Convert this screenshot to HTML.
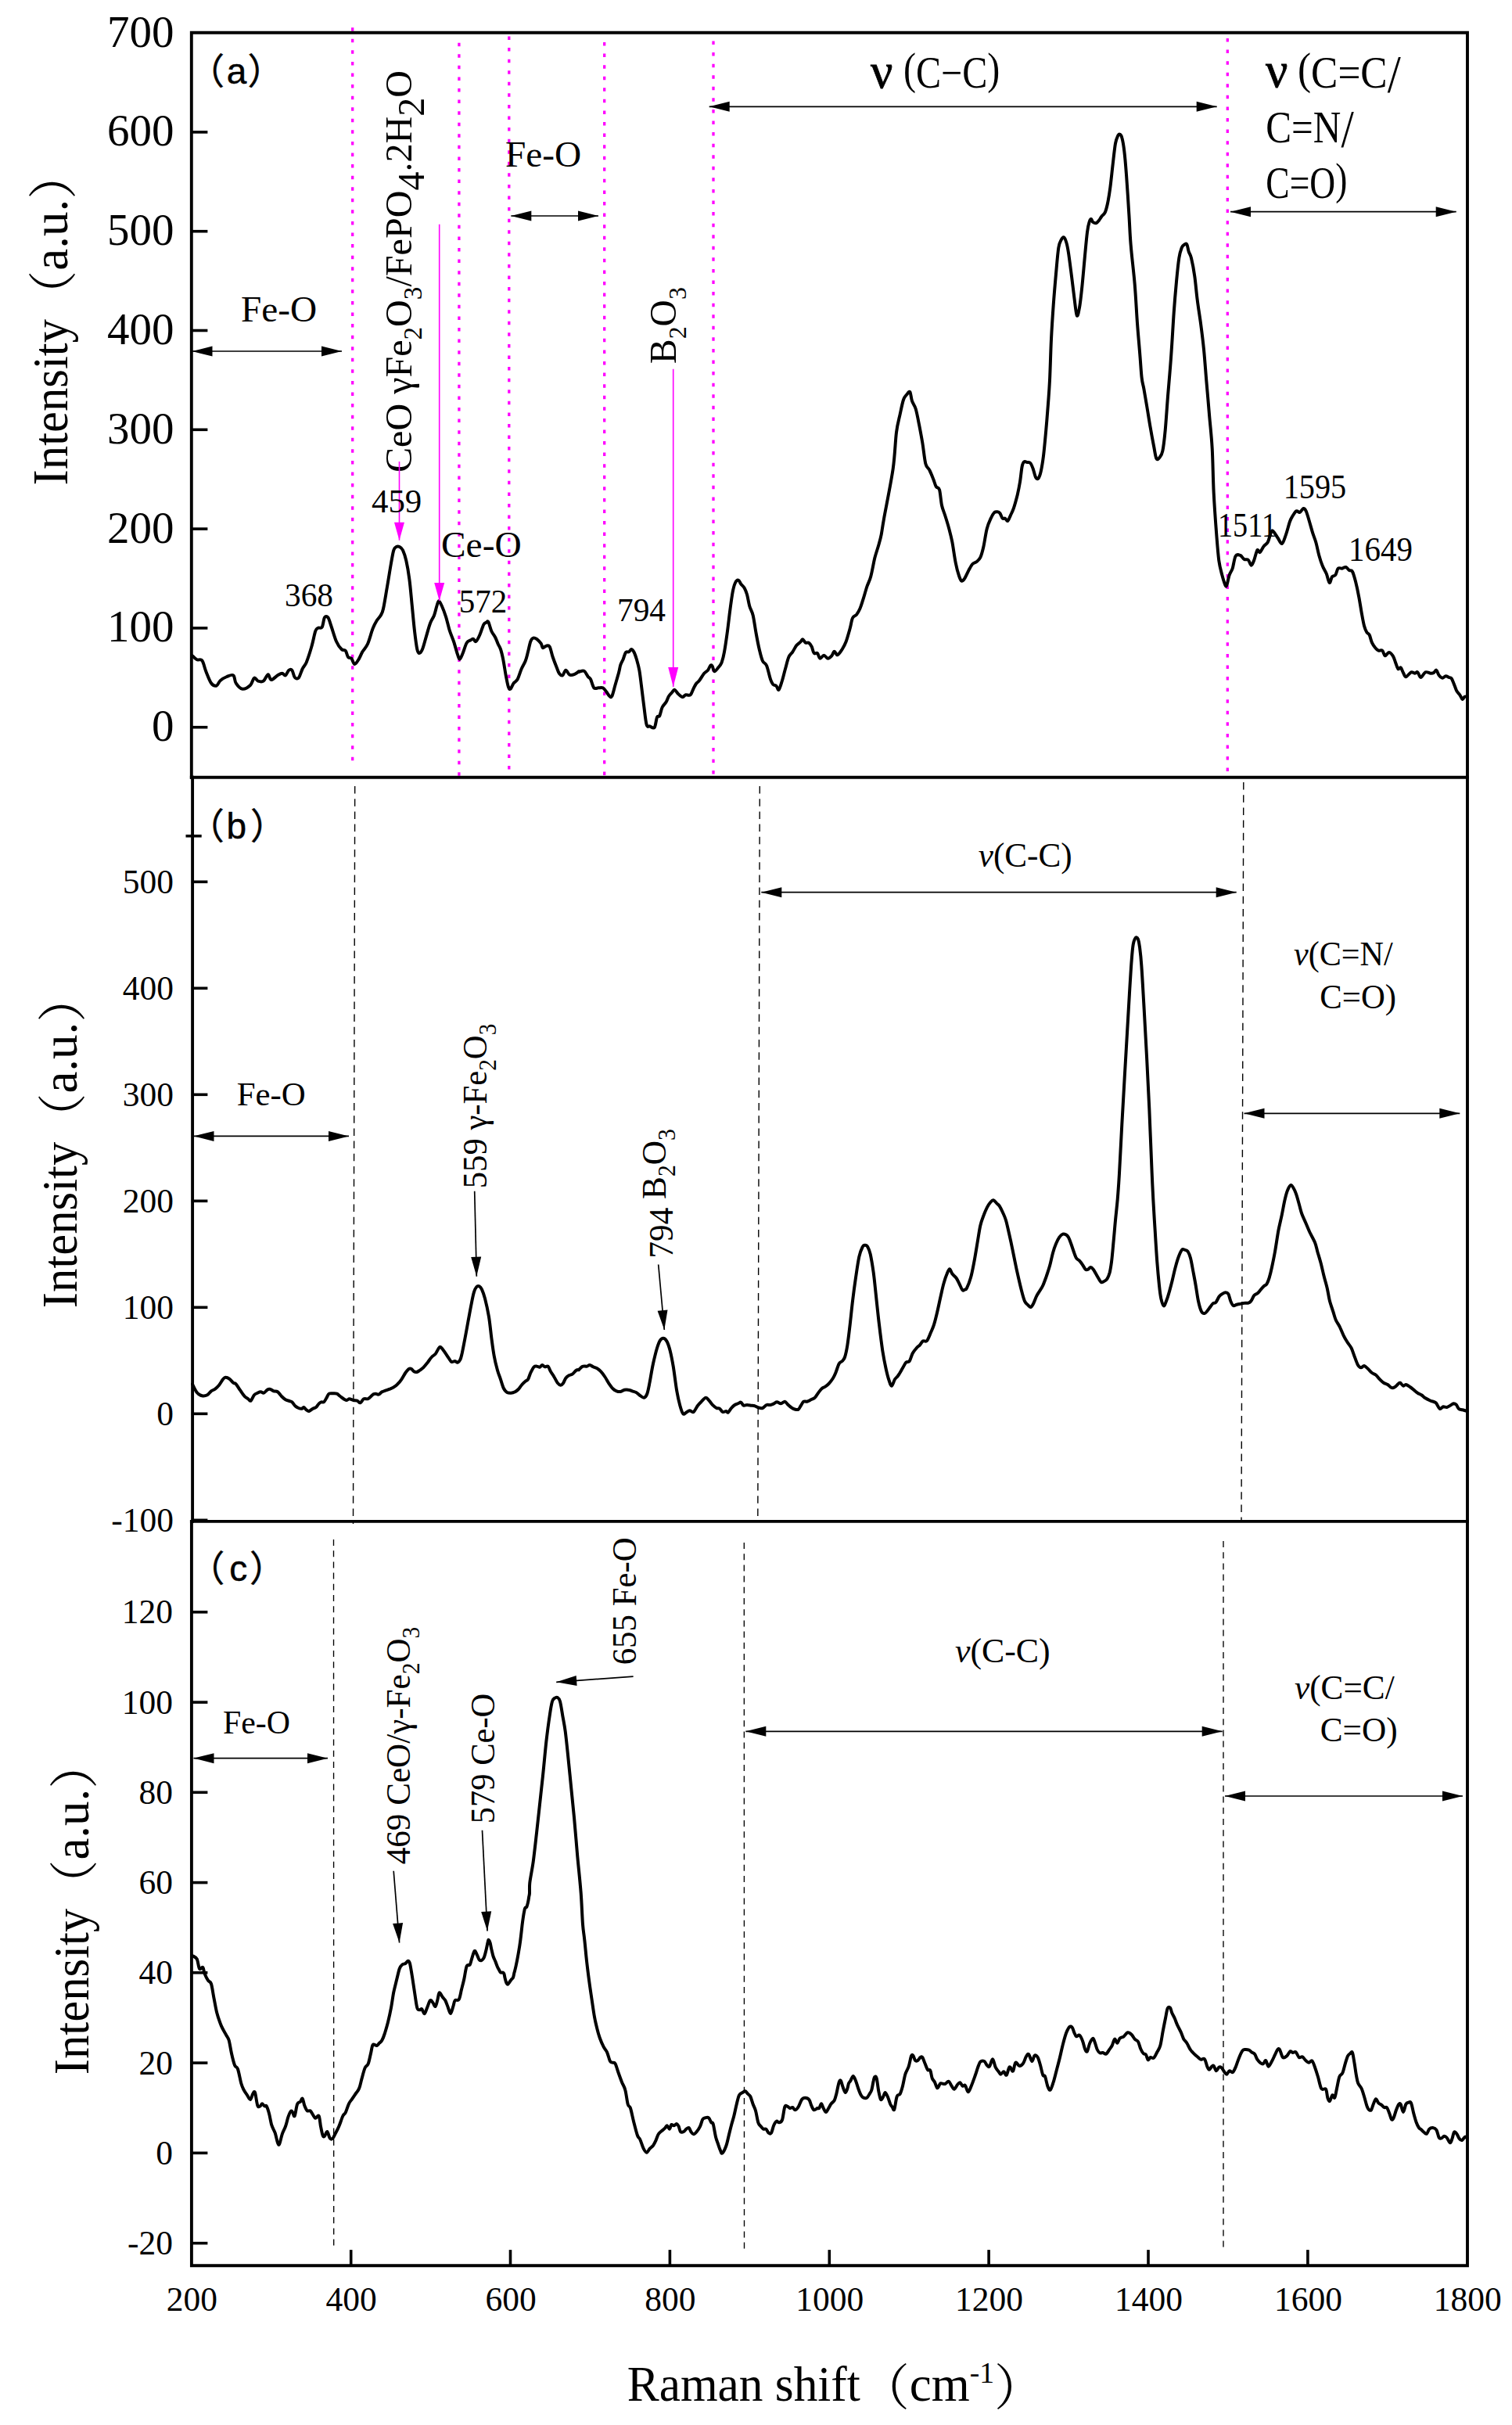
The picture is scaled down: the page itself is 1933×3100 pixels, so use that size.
<!DOCTYPE html>
<html lang="en"><head><meta charset="utf-8"><title>Raman spectra</title>
<style>html,body{margin:0;padding:0;background:#fff}svg{display:block}</style></head>
<body>
<svg width="1933" height="3100" viewBox="0 0 1933 3100">
<rect width="1933" height="3100" fill="#fff"/>
<line x1="450.7" y1="35.2" x2="450.7" y2="972.4" stroke="#ff00ff" stroke-width="3.3" stroke-dasharray="4.5 10.072"/>
<line x1="586.9" y1="54.7" x2="586.9" y2="991.9" stroke="#ff00ff" stroke-width="3.3" stroke-dasharray="4.5 10.072"/>
<line x1="650.8" y1="46.5" x2="650.8" y2="983.7" stroke="#ff00ff" stroke-width="3.3" stroke-dasharray="4.5 10.072"/>
<line x1="772.7" y1="54" x2="772.7" y2="991.2" stroke="#ff00ff" stroke-width="3.3" stroke-dasharray="4.5 10.072"/>
<line x1="912" y1="52.5" x2="912" y2="989.7" stroke="#ff00ff" stroke-width="3.3" stroke-dasharray="4.5 10.072"/>
<line x1="1569.3" y1="49" x2="1569.3" y2="986.2" stroke="#ff00ff" stroke-width="3.3" stroke-dasharray="4.5 10.072"/>
<line x1="453.7" y1="1005" x2="451.5" y2="1948" stroke="#000" stroke-width="1.4" stroke-dasharray="9.5 6.7"/>
<line x1="971.3" y1="1005" x2="968.8" y2="1944" stroke="#000" stroke-width="1.4" stroke-dasharray="9.5 6.7"/>
<line x1="1589.8" y1="1000" x2="1587.0" y2="1944" stroke="#000" stroke-width="1.4" stroke-dasharray="9.5 6.7"/>
<line x1="426.5" y1="1968" x2="426.7" y2="2872" stroke="#000" stroke-width="1.35" stroke-dasharray="8 6.2"/>
<line x1="951.3" y1="1972" x2="951.5" y2="2876.5" stroke="#000" stroke-width="1.35" stroke-dasharray="8 6.2"/>
<line x1="1564" y1="1970" x2="1564" y2="2875" stroke="#000" stroke-width="1.35" stroke-dasharray="8 6.2"/>
<path d="M246.0,838.3 C246.9,839.2 249.6,842.3 251.7,843.3 C253.7,844.3 256.4,841.8 258.3,844.3 C260.3,846.8 261.4,853.5 263.3,858.3 C265.3,863.2 267.8,870.3 270.0,873.3 C272.2,876.4 274.7,877.2 276.7,876.7 C278.6,876.1 279.4,871.9 281.7,870.0 C283.9,868.1 287.2,866.1 290.0,865.0 C292.8,863.9 296.4,861.9 298.3,863.3 C300.3,864.7 299.7,870.4 301.7,873.3 C303.6,876.2 306.9,880.2 310.0,880.7 C313.1,881.1 317.5,878.3 320.0,876.0 C322.5,873.7 323.3,867.6 325.0,866.7 C326.7,865.8 328.1,870.0 330.0,870.7 C331.9,871.3 334.6,872.1 336.7,870.7 C338.8,869.3 341.0,862.6 342.7,862.3 C344.3,862.1 344.6,868.8 346.7,869.0 C348.7,869.2 352.7,864.7 355.0,863.3 C357.3,861.9 359.0,860.7 360.7,860.7 C362.3,860.7 363.6,864.0 365.0,863.3 C366.4,862.7 367.9,857.8 369.3,856.7 C370.7,855.6 372.1,855.2 373.3,856.7 C374.6,858.2 375.3,864.0 376.7,865.7 C378.1,867.3 380.0,868.4 381.7,866.7 C383.3,864.9 385.0,858.3 386.7,855.0 C388.3,851.7 389.7,851.4 391.7,846.7 C393.6,841.9 396.4,833.3 398.3,826.7 C400.3,820.0 401.9,810.7 403.3,806.7 C404.7,802.7 405.3,803.5 406.7,802.7 C408.1,801.8 410.3,803.9 411.7,801.7 C413.1,799.4 413.7,791.4 415.0,789.3 C416.3,787.3 417.9,787.6 419.3,789.3 C420.7,791.1 421.6,794.9 423.3,800.0 C425.1,805.1 427.8,815.0 430.0,820.0 C432.2,825.0 434.7,828.1 436.7,830.0 C438.6,831.9 440.3,830.0 441.7,831.7 C443.1,833.3 443.7,838.3 445.0,840.0 C446.3,841.7 447.9,840.2 449.3,841.7 C450.7,843.2 451.8,848.7 453.3,849.0 C454.8,849.3 456.7,845.9 458.3,843.3 C460.0,840.7 461.4,836.7 463.3,833.3 C465.3,830.0 467.8,828.3 470.0,823.3 C472.2,818.3 474.7,808.3 476.7,803.3 C478.6,798.3 480.0,796.1 481.7,793.3 C483.3,790.6 485.3,789.2 486.7,786.7 C488.1,784.2 488.6,784.4 490.0,778.3 C491.4,772.2 493.3,759.7 495.0,750.0 C496.7,740.3 498.6,727.8 500.0,720.0 C501.4,712.2 502.2,706.8 503.3,703.3 C504.4,699.8 505.4,699.7 506.7,699.0 C507.9,698.3 509.3,698.3 510.7,699.0 C512.1,699.7 513.6,700.4 515.0,703.3 C516.4,706.3 517.9,710.6 519.3,716.7 C520.7,722.8 522.1,730.6 523.3,740.0 C524.6,749.4 525.6,762.2 526.7,773.3 C527.8,784.4 528.9,797.2 530.0,806.7 C531.1,816.1 532.3,825.3 533.3,830.0 C534.3,834.7 534.9,835.0 536.0,835.0 C537.1,835.0 538.5,833.6 540.0,830.0 C541.5,826.4 543.3,818.9 545.0,813.3 C546.7,807.8 548.3,801.1 550.0,796.7 C551.7,792.2 553.6,790.3 555.0,786.7 C556.4,783.1 557.3,778.1 558.3,775.0 C559.3,771.9 559.9,768.3 561.0,768.3 C562.1,768.3 563.5,771.7 565.0,775.0 C566.5,778.3 568.3,783.1 570.0,788.3 C571.7,793.6 573.3,801.4 575.0,806.7 C576.7,811.9 578.3,815.0 580.0,820.0 C581.7,825.0 583.7,832.9 585.0,836.7 C586.3,840.4 586.6,842.9 587.7,842.7 C588.8,842.4 590.2,838.5 591.7,835.0 C593.2,831.5 595.0,824.4 596.7,821.7 C598.3,818.9 600.3,819.2 601.7,818.3 C603.1,817.5 603.9,816.4 605.0,816.7 C606.1,816.9 606.9,820.8 608.3,820.0 C609.7,819.2 611.7,815.3 613.3,811.7 C615.0,808.1 616.9,801.0 618.3,798.3 C619.7,795.7 620.7,796.2 621.7,795.7 C622.7,795.1 623.2,793.2 624.3,795.0 C625.4,796.8 626.8,803.3 628.3,806.7 C629.8,810.0 631.9,812.2 633.3,815.0 C634.7,817.8 635.6,820.8 636.7,823.3 C637.8,825.8 638.9,826.7 640.0,830.0 C641.1,833.3 642.2,837.8 643.3,843.3 C644.4,848.9 645.6,857.5 646.7,863.3 C647.8,869.2 649.0,875.4 650.0,878.3 C651.0,881.2 651.6,881.5 652.7,880.7 C653.8,879.8 655.2,875.4 656.7,873.3 C658.2,871.3 660.0,871.4 661.7,868.3 C663.3,865.3 665.0,858.9 666.7,855.0 C668.3,851.1 670.3,848.6 671.7,845.0 C673.1,841.4 673.9,837.5 675.0,833.3 C676.1,829.2 677.2,822.9 678.3,820.0 C679.4,817.1 680.3,816.1 681.7,815.7 C683.1,815.2 685.0,816.2 686.7,817.3 C688.3,818.5 690.4,820.8 691.7,822.7 C692.9,824.5 692.9,827.8 694.0,828.3 C695.1,828.8 696.9,825.9 698.3,825.7 C699.8,825.4 701.3,824.3 702.7,826.7 C704.1,829.1 705.2,835.6 706.7,840.0 C708.2,844.4 710.3,849.8 711.7,853.3 C713.1,856.8 713.7,859.3 715.0,861.0 C716.3,862.7 717.9,864.1 719.3,863.3 C720.7,862.6 721.8,856.8 723.3,856.7 C724.8,856.6 726.4,861.8 728.3,862.7 C730.3,863.5 733.1,862.4 735.0,861.7 C736.9,860.9 739.2,858.8 740.0,858.3 C740.8,857.9 738.9,859.1 740.0,859.0 C741.1,858.9 744.7,856.7 746.7,857.7 C748.6,858.7 750.3,863.2 751.7,865.0 C753.1,866.8 753.7,865.9 755.0,868.3 C756.3,870.7 757.7,877.5 759.3,879.3 C761.0,881.2 763.1,879.3 765.0,879.3 C766.9,879.3 769.0,878.6 770.7,879.3 C772.3,880.1 773.6,882.2 775.0,884.0 C776.4,885.8 778.1,889.0 779.3,890.0 C780.6,891.0 781.1,892.5 782.3,890.0 C783.6,887.5 785.2,880.0 786.7,875.0 C788.1,870.0 789.9,864.2 791.0,860.0 C792.1,855.8 792.4,852.9 793.3,850.0 C794.3,847.1 795.6,845.3 796.7,842.7 C797.8,840.0 798.8,835.6 800.0,834.0 C801.2,832.4 802.8,834.0 804.0,833.3 C805.2,832.7 806.2,829.9 807.3,830.0 C808.4,830.1 809.6,831.8 810.7,834.0 C811.8,836.2 812.9,839.6 814.0,843.3 C815.1,847.1 816.3,851.1 817.3,856.7 C818.3,862.2 819.0,868.9 820.0,876.7 C821.0,884.4 822.2,895.0 823.3,903.3 C824.4,911.7 825.4,922.5 826.7,926.7 C827.9,930.8 829.0,927.8 830.7,928.3 C832.3,928.9 835.1,931.9 836.7,930.0 C838.2,928.1 838.9,919.2 840.0,916.7 C841.1,914.2 842.2,917.1 843.3,915.0 C844.4,912.9 845.3,906.9 846.7,904.0 C848.1,901.1 850.3,899.7 851.7,897.3 C853.1,895.0 853.7,892.1 855.0,890.0 C856.3,887.9 858.1,886.4 859.3,885.0 C860.6,883.6 861.1,881.4 862.3,881.7 C863.6,881.9 865.0,885.1 866.7,886.7 C868.3,888.2 870.7,890.7 872.3,891.0 C874.0,891.3 874.9,888.8 876.7,888.3 C878.4,887.9 881.0,889.7 882.7,888.3 C884.3,886.9 885.4,882.4 886.7,880.0 C887.9,877.6 888.8,875.7 890.0,874.0 C891.2,872.3 892.3,872.2 894.0,870.0 C895.7,867.8 898.2,863.2 900.0,861.0 C901.8,858.8 903.6,858.4 905.0,856.7 C906.4,854.9 907.4,851.5 908.3,850.7 C909.3,849.8 909.8,850.4 910.7,851.7 C911.5,852.9 912.1,858.1 913.3,858.3 C914.6,858.6 916.8,855.3 918.3,853.3 C919.9,851.4 921.4,850.0 922.7,846.7 C923.9,843.3 924.8,840.0 926.0,833.3 C927.2,826.7 928.8,815.6 930.0,806.7 C931.2,797.8 932.2,788.3 933.3,780.0 C934.4,771.7 935.6,762.5 936.7,756.7 C937.8,750.8 938.8,747.5 940.0,745.0 C941.2,742.5 942.8,741.4 944.0,741.7 C945.2,741.9 946.1,745.0 947.3,746.7 C948.6,748.3 950.4,749.4 951.7,751.7 C952.9,753.9 953.9,756.1 955.0,760.0 C956.1,763.9 957.1,770.6 958.3,775.0 C959.6,779.4 961.3,780.8 962.7,786.7 C964.1,792.5 965.3,802.8 966.7,810.0 C968.0,817.2 969.3,824.2 970.7,830.0 C972.1,835.8 973.4,841.6 975.0,845.0 C976.6,848.4 978.3,846.8 980.0,850.7 C981.7,854.6 983.6,864.3 985.0,868.3 C986.4,872.4 987.1,873.6 988.3,875.0 C989.6,876.4 991.1,875.6 992.3,876.7 C993.6,877.8 994.4,882.8 995.7,881.7 C996.9,880.6 998.6,874.4 1000.0,870.0 C1001.4,865.6 1002.6,860.0 1004.0,855.0 C1005.4,850.0 1006.8,843.6 1008.3,840.0 C1009.9,836.4 1011.7,835.8 1013.3,833.3 C1015.0,830.8 1016.7,827.1 1018.3,825.0 C1020.0,822.9 1022.1,821.9 1023.3,820.7 C1024.6,819.4 1024.9,817.2 1026.0,817.3 C1027.1,817.5 1028.7,820.9 1030.0,821.7 C1031.3,822.4 1032.7,820.8 1034.0,821.7 C1035.3,822.5 1036.6,824.4 1037.7,826.7 C1038.8,828.9 1039.4,833.6 1040.7,835.0 C1041.9,836.4 1043.7,833.9 1045.0,835.0 C1046.3,836.1 1046.9,841.2 1048.3,841.7 C1049.7,842.1 1051.7,837.7 1053.3,837.7 C1055.0,837.7 1056.7,841.6 1058.3,841.7 C1060.0,841.8 1061.9,839.8 1063.3,838.3 C1064.7,836.8 1065.4,832.8 1066.7,832.7 C1067.9,832.5 1069.0,837.8 1070.7,837.3 C1072.3,836.9 1074.8,832.9 1076.7,830.0 C1078.5,827.1 1080.0,824.4 1081.7,820.0 C1083.3,815.6 1085.3,808.3 1086.7,803.3 C1088.1,798.3 1088.6,792.9 1090.0,790.0 C1091.4,787.1 1093.4,787.6 1095.0,785.7 C1096.6,783.7 1097.9,781.5 1099.3,778.3 C1100.7,775.2 1101.8,771.4 1103.3,766.7 C1104.8,761.9 1106.7,755.0 1108.3,750.0 C1110.0,745.0 1111.7,742.8 1113.3,736.7 C1115.0,730.6 1116.7,720.0 1118.3,713.3 C1120.0,706.7 1121.9,701.7 1123.3,696.7 C1124.7,691.7 1125.6,688.9 1126.7,683.3 C1127.8,677.8 1127.5,677.3 1130.0,663.3 C1132.5,649.3 1139.0,617.8 1141.7,599.3 C1144.3,580.9 1144.5,564.3 1146.0,552.7 C1147.5,541.0 1149.2,536.3 1150.7,529.3 C1152.2,522.4 1153.6,515.2 1155.0,511.0 C1156.4,506.8 1157.9,506.0 1159.3,504.3 C1160.7,502.7 1162.2,499.6 1163.3,501.0 C1164.4,502.4 1164.8,509.1 1166.0,512.7 C1167.2,516.3 1169.2,517.7 1170.7,522.7 C1172.2,527.7 1173.6,535.4 1175.0,542.7 C1176.4,549.9 1177.9,557.7 1179.3,566.0 C1180.7,574.3 1181.8,586.8 1183.3,592.7 C1184.8,598.5 1186.7,597.7 1188.3,601.0 C1190.0,604.3 1191.9,609.2 1193.3,612.7 C1194.7,616.2 1195.4,619.8 1196.7,622.0 C1197.9,624.2 1199.8,622.0 1201.0,626.0 C1202.2,630.0 1202.8,640.4 1204.0,646.0 C1205.2,651.6 1206.8,654.3 1208.3,659.3 C1209.9,664.3 1211.8,670.4 1213.3,676.0 C1214.8,681.6 1215.9,685.4 1217.3,692.7 C1218.7,699.9 1220.2,712.1 1221.7,719.3 C1223.1,726.6 1224.7,732.1 1226.0,736.0 C1227.3,739.9 1228.1,742.1 1229.3,742.7 C1230.6,743.2 1231.8,741.6 1233.3,739.3 C1234.8,737.1 1236.7,732.4 1238.3,729.3 C1240.0,726.3 1241.7,722.8 1243.3,721.0 C1245.0,719.2 1246.7,719.7 1248.3,718.3 C1250.0,716.9 1251.8,715.8 1253.3,712.7 C1254.8,709.5 1255.9,705.4 1257.3,699.3 C1258.7,693.2 1260.1,682.1 1261.7,676.0 C1263.2,669.9 1265.1,666.1 1266.7,662.7 C1268.2,659.2 1269.6,656.7 1271.0,655.3 C1272.4,653.9 1273.8,654.2 1275.0,654.3 C1276.2,654.4 1277.2,654.6 1278.3,656.0 C1279.4,657.4 1280.6,661.6 1281.7,662.7 C1282.8,663.8 1283.9,662.1 1285.0,662.7 C1286.1,663.2 1287.2,666.6 1288.3,666.0 C1289.4,665.4 1290.4,662.1 1291.7,659.3 C1292.9,656.6 1294.5,653.8 1296.0,649.3 C1297.5,644.9 1299.3,638.2 1300.7,632.7 C1302.0,627.1 1303.0,622.1 1304.0,616.0 C1305.0,609.9 1305.8,600.3 1306.7,596.0 C1307.6,591.7 1308.2,591.2 1309.3,590.3 C1310.4,589.5 1312.0,590.7 1313.3,591.0 C1314.7,591.3 1316.1,590.6 1317.3,592.0 C1318.6,593.4 1319.6,596.3 1320.7,599.3 C1321.8,602.3 1322.9,607.9 1324.0,610.0 C1325.1,612.1 1326.2,612.9 1327.3,611.7 C1328.4,610.4 1329.6,607.5 1330.7,602.7 C1331.8,597.8 1332.9,591.6 1334.0,582.7 C1335.1,573.8 1336.3,560.4 1337.3,549.3 C1338.3,538.2 1339.2,526.6 1340.0,516.0 C1340.8,505.4 1341.3,499.8 1342.0,486.0 C1342.7,472.2 1343.2,449.3 1344.0,433.3 C1344.8,417.3 1345.7,403.9 1346.7,390.0 C1347.7,376.1 1348.9,362.2 1350.0,350.0 C1351.1,337.8 1352.2,323.9 1353.3,316.7 C1354.4,309.4 1355.6,308.9 1356.7,306.7 C1357.8,304.4 1358.9,302.8 1360.0,303.3 C1361.1,303.9 1362.3,306.7 1363.3,310.0 C1364.3,313.3 1364.9,316.1 1366.0,323.3 C1367.1,330.6 1368.8,343.9 1370.0,353.3 C1371.2,362.8 1372.2,371.7 1373.3,380.0 C1374.4,388.3 1375.6,401.1 1376.7,403.3 C1377.8,405.6 1378.9,399.4 1380.0,393.3 C1381.1,387.2 1382.2,377.2 1383.3,366.7 C1384.4,356.1 1385.6,341.7 1386.7,330.0 C1387.8,318.3 1389.0,304.4 1390.0,296.7 C1391.0,288.9 1391.8,286.1 1392.7,283.3 C1393.5,280.6 1394.2,279.9 1395.0,280.0 C1395.8,280.1 1396.2,283.2 1397.3,284.0 C1398.4,284.8 1400.4,285.4 1401.7,285.0 C1402.9,284.6 1403.9,283.1 1405.0,281.7 C1406.1,280.3 1407.1,278.3 1408.3,276.7 C1409.6,275.0 1411.4,274.4 1412.7,271.7 C1413.9,268.9 1414.9,265.3 1416.0,260.0 C1417.1,254.7 1418.2,248.3 1419.3,240.0 C1420.4,231.7 1421.6,219.4 1422.7,210.0 C1423.8,200.6 1424.9,189.4 1426.0,183.3 C1427.1,177.2 1428.4,175.3 1429.3,173.3 C1430.3,171.4 1430.8,171.2 1431.7,171.7 C1432.5,172.1 1433.4,172.4 1434.3,176.0 C1435.3,179.6 1436.4,185.4 1437.3,193.3 C1438.3,201.2 1439.0,210.0 1440.0,223.3 C1441.0,236.7 1442.4,258.3 1443.3,273.3 C1444.3,288.3 1444.4,298.3 1445.7,313.3 C1446.9,328.3 1449.3,346.7 1450.7,363.3 C1452.1,380.0 1452.9,398.3 1454.0,413.3 C1455.1,428.3 1456.4,441.7 1457.3,453.3 C1458.3,465.0 1458.8,476.1 1459.7,483.3 C1460.5,490.6 1461.2,490.6 1462.3,496.7 C1463.4,502.8 1464.9,511.7 1466.3,520.0 C1467.7,528.3 1469.2,538.3 1470.7,546.7 C1472.1,555.0 1473.7,563.4 1475.0,570.0 C1476.3,576.6 1477.1,583.5 1478.3,586.0 C1479.6,588.5 1481.0,586.6 1482.3,585.0 C1483.7,583.4 1485.1,582.5 1486.3,576.7 C1487.6,570.8 1488.6,561.7 1489.7,550.0 C1490.8,538.3 1491.7,522.8 1493.0,506.7 C1494.3,490.6 1496.1,471.1 1497.3,453.3 C1498.6,435.6 1499.6,415.6 1500.7,400.0 C1501.8,384.4 1502.9,371.7 1504.0,360.0 C1505.1,348.3 1506.2,337.2 1507.3,330.0 C1508.4,322.8 1509.6,319.6 1510.7,316.7 C1511.8,313.8 1512.9,313.4 1514.0,312.7 C1515.1,311.9 1516.4,310.8 1517.3,312.3 C1518.3,313.8 1518.7,318.7 1519.7,321.7 C1520.6,324.6 1521.7,324.7 1523.0,330.0 C1524.3,335.3 1526.1,344.4 1527.3,353.3 C1528.6,362.2 1529.4,373.3 1530.7,383.3 C1531.9,393.3 1533.6,402.8 1535.0,413.3 C1536.4,423.9 1537.8,434.4 1539.0,446.7 C1540.2,458.9 1541.1,472.2 1542.3,486.7 C1543.6,501.1 1545.1,518.9 1546.3,533.3 C1547.6,547.8 1548.8,557.2 1549.7,573.3 C1550.6,589.4 1550.8,612.2 1551.7,630.0 C1552.6,647.8 1553.9,665.6 1555.0,680.0 C1556.1,694.4 1557.1,707.5 1558.3,716.7 C1559.6,725.8 1561.0,729.8 1562.3,735.0 C1563.7,740.2 1565.3,745.4 1566.3,747.7 C1567.3,749.9 1567.4,750.4 1568.3,748.3 C1569.2,746.2 1570.4,738.6 1571.7,735.0 C1572.9,731.4 1574.3,730.7 1575.7,726.7 C1577.0,722.6 1578.0,713.4 1579.7,710.7 C1581.3,707.9 1583.8,709.3 1585.7,710.0 C1587.5,710.7 1589.0,714.1 1590.7,715.0 C1592.3,715.9 1594.2,714.4 1595.7,715.7 C1597.2,716.9 1598.4,722.5 1599.7,722.7 C1600.9,722.8 1601.7,719.9 1603.0,716.7 C1604.3,713.4 1606.1,705.1 1607.3,703.3 C1608.6,701.6 1609.3,706.8 1610.7,706.0 C1612.1,705.2 1614.0,700.4 1615.7,698.3 C1617.3,696.2 1619.3,695.8 1620.7,693.3 C1622.1,690.8 1623.1,685.8 1624.0,683.3 C1624.9,680.8 1625.4,678.6 1626.3,678.3 C1627.3,678.1 1628.4,680.0 1629.7,681.7 C1630.9,683.3 1632.4,686.1 1634.0,688.3 C1635.6,690.6 1637.3,695.8 1639.0,695.0 C1640.7,694.2 1642.3,688.1 1644.0,683.3 C1645.7,678.6 1647.6,670.6 1649.0,666.7 C1650.4,662.8 1650.9,662.2 1652.3,660.0 C1653.7,657.8 1655.8,654.2 1657.3,653.3 C1658.9,652.5 1660.2,655.6 1661.7,655.0 C1663.2,654.4 1665.0,650.3 1666.3,650.0 C1667.7,649.7 1668.4,650.6 1669.7,653.3 C1670.9,656.1 1672.6,661.9 1674.0,666.7 C1675.4,671.4 1676.9,677.2 1678.3,681.7 C1679.7,686.1 1681.0,688.6 1682.3,693.3 C1683.7,698.1 1684.9,705.0 1686.3,710.0 C1687.7,715.0 1689.1,719.4 1690.7,723.3 C1692.2,727.2 1694.2,729.7 1695.7,733.3 C1697.2,736.9 1698.4,744.3 1699.7,745.0 C1700.9,745.7 1701.7,739.0 1703.0,737.3 C1704.3,735.7 1706.1,736.8 1707.3,735.0 C1708.6,733.2 1709.3,728.1 1710.7,726.7 C1712.1,725.3 1714.0,726.9 1715.7,726.7 C1717.3,726.4 1719.1,724.6 1720.7,725.0 C1722.2,725.4 1723.6,728.1 1725.0,729.0 C1726.4,729.9 1727.7,728.3 1729.0,730.7 C1730.3,733.1 1731.6,737.9 1733.0,743.3 C1734.4,748.8 1736.1,756.7 1737.3,763.3 C1738.6,770.0 1739.6,777.2 1740.7,783.3 C1741.8,789.4 1742.9,795.8 1744.0,800.0 C1745.1,804.2 1746.2,806.4 1747.3,808.3 C1748.4,810.3 1749.6,809.4 1750.7,811.7 C1751.8,813.9 1752.7,818.9 1754.0,821.7 C1755.3,824.4 1756.9,826.7 1758.3,828.3 C1759.7,830.0 1760.8,831.1 1762.3,831.7 C1763.8,832.2 1765.9,830.6 1767.3,831.7 C1768.7,832.8 1769.3,837.9 1770.7,838.3 C1772.1,838.7 1774.0,834.0 1775.7,834.0 C1777.3,834.0 1779.3,836.2 1780.7,838.3 C1782.1,840.4 1782.9,843.9 1784.0,846.7 C1785.1,849.4 1786.2,853.9 1787.3,855.0 C1788.4,856.1 1789.6,852.5 1790.7,853.3 C1791.8,854.2 1792.9,858.0 1794.0,860.0 C1795.1,862.0 1795.7,865.4 1797.3,865.3 C1799.0,865.2 1802.1,860.1 1804.0,859.3 C1805.9,858.6 1807.6,860.7 1809.0,860.7 C1810.4,860.7 1811.1,858.4 1812.3,859.3 C1813.6,860.2 1814.7,866.0 1816.3,866.0 C1818.0,866.0 1820.2,860.2 1822.3,859.3 C1824.4,858.4 1827.2,860.6 1829.0,860.7 C1830.8,860.8 1831.8,860.7 1833.0,860.0 C1834.2,859.3 1835.2,856.1 1836.3,856.7 C1837.4,857.2 1838.4,861.7 1839.7,863.3 C1840.9,865.0 1842.6,866.5 1844.0,866.7 C1845.4,866.8 1846.9,864.4 1848.3,864.3 C1849.7,864.2 1851.1,865.5 1852.3,866.0 C1853.6,866.5 1854.4,865.6 1855.7,867.3 C1856.9,869.1 1858.6,874.0 1859.7,876.7 C1860.8,879.3 1861.2,881.4 1862.3,883.3 C1863.4,885.3 1865.1,886.6 1866.3,888.3 C1867.6,890.1 1868.7,893.6 1869.7,894.0 C1870.7,894.4 1871.3,891.2 1872.3,890.7 C1873.3,890.1 1875.1,890.7 1875.7,890.7" fill="none" stroke="#000" stroke-width="4" stroke-linejoin="round" stroke-linecap="round"/>
<path d="M246.0,1769.3 C246.9,1771.1 249.6,1777.5 251.7,1780.0 C253.7,1782.5 256.1,1783.8 258.3,1784.3 C260.6,1784.9 263.1,1784.3 265.0,1783.3 C266.9,1782.3 268.3,1779.6 270.0,1778.3 C271.7,1777.1 273.3,1776.9 275.0,1775.7 C276.7,1774.4 278.3,1772.7 280.0,1770.7 C281.7,1768.6 283.6,1765.0 285.0,1763.3 C286.4,1761.7 286.9,1760.8 288.3,1760.7 C289.7,1760.6 291.7,1761.5 293.3,1762.7 C295.0,1763.8 296.9,1766.6 298.3,1767.7 C299.7,1768.8 300.3,1767.8 301.7,1769.3 C303.1,1770.8 304.8,1774.1 306.7,1776.7 C308.5,1779.3 310.9,1783.1 312.7,1785.0 C314.4,1786.9 316.0,1787.4 317.3,1788.3 C318.7,1789.3 319.4,1791.5 320.7,1790.7 C321.9,1789.8 323.6,1785.0 325.0,1783.3 C326.4,1781.7 327.9,1781.3 329.3,1780.7 C330.7,1780.0 332.0,1779.3 333.3,1779.3 C334.7,1779.3 335.9,1781.1 337.3,1780.7 C338.7,1780.2 340.4,1777.5 341.7,1776.7 C342.9,1775.8 343.6,1775.4 345.0,1775.7 C346.4,1775.9 348.3,1777.7 350.0,1778.3 C351.7,1778.9 353.3,1778.2 355.0,1779.3 C356.7,1780.4 358.3,1783.3 360.0,1785.0 C361.7,1786.7 363.3,1788.3 365.0,1789.3 C366.7,1790.3 368.6,1790.5 370.0,1791.0 C371.4,1791.5 372.1,1791.3 373.3,1792.3 C374.6,1793.4 375.9,1796.1 377.3,1797.3 C378.7,1798.6 380.2,1799.4 381.7,1800.0 C383.1,1800.6 384.9,1800.8 386.0,1800.7 C387.1,1800.5 387.4,1798.7 388.3,1799.0 C389.3,1799.3 390.6,1801.5 391.7,1802.3 C392.8,1803.2 393.6,1804.3 395.0,1804.0 C396.4,1803.7 398.5,1801.5 400.0,1800.7 C401.5,1799.8 402.7,1800.1 404.0,1799.0 C405.3,1797.9 406.6,1795.4 407.7,1794.3 C408.8,1793.2 409.6,1792.7 410.7,1792.3 C411.7,1792.0 412.9,1793.2 414.0,1792.3 C415.1,1791.5 416.2,1789.1 417.3,1787.3 C418.4,1785.6 419.2,1782.7 420.7,1781.7 C422.1,1780.7 424.3,1781.3 426.0,1781.3 C427.7,1781.3 429.2,1781.1 430.7,1781.7 C432.2,1782.3 433.4,1783.8 435.0,1785.0 C436.6,1786.2 438.6,1787.8 440.0,1788.7 C441.4,1789.5 442.2,1790.1 443.3,1790.0 C444.4,1789.9 445.3,1788.3 446.7,1788.3 C448.1,1788.3 450.0,1789.6 451.7,1790.0 C453.3,1790.4 455.2,1790.1 456.7,1790.7 C458.2,1791.2 459.3,1793.7 460.7,1793.3 C462.1,1792.9 463.4,1789.2 465.0,1788.3 C466.6,1787.5 468.6,1788.7 470.0,1788.3 C471.4,1787.9 472.1,1787.0 473.3,1786.0 C474.6,1785.0 476.1,1783.1 477.3,1782.3 C478.6,1781.6 479.6,1781.6 480.7,1781.7 C481.8,1781.7 482.7,1783.1 484.0,1782.7 C485.3,1782.3 486.8,1780.2 488.3,1779.3 C489.9,1778.4 491.7,1777.9 493.3,1777.3 C495.0,1776.7 496.7,1776.3 498.3,1775.7 C500.0,1775.0 501.7,1774.4 503.3,1773.3 C505.0,1772.3 506.7,1771.0 508.3,1769.3 C510.0,1767.7 511.7,1765.7 513.3,1763.3 C515.0,1760.9 516.8,1757.2 518.3,1755.0 C519.9,1752.8 521.4,1750.8 522.7,1750.0 C523.9,1749.2 524.9,1749.4 526.0,1750.0 C527.1,1750.6 528.2,1752.7 529.3,1753.3 C530.4,1754.0 531.4,1754.3 532.7,1754.0 C533.9,1753.7 535.2,1752.7 536.7,1751.7 C538.2,1750.6 540.0,1749.3 541.7,1747.7 C543.3,1746.0 545.0,1743.8 546.7,1741.7 C548.3,1739.6 550.0,1736.8 551.7,1735.0 C553.3,1733.2 555.3,1732.3 556.7,1730.7 C558.1,1729.0 559.0,1726.5 560.0,1725.0 C561.0,1723.5 561.7,1721.7 562.7,1721.7 C563.7,1721.7 564.8,1723.5 566.0,1725.0 C567.2,1726.5 568.7,1728.7 570.0,1730.7 C571.3,1732.6 572.8,1734.9 574.0,1736.7 C575.2,1738.4 576.1,1740.4 577.3,1741.0 C578.6,1741.6 580.4,1739.9 581.7,1740.0 C582.9,1740.1 583.9,1741.9 585.0,1741.7 C586.1,1741.4 587.4,1740.3 588.3,1738.3 C589.3,1736.4 589.7,1734.2 590.7,1730.0 C591.6,1725.8 592.7,1720.0 594.0,1713.3 C595.3,1706.7 596.9,1697.8 598.3,1690.0 C599.8,1682.2 601.4,1673.1 602.7,1666.7 C603.9,1660.3 604.9,1655.3 606.0,1651.7 C607.1,1648.1 608.2,1646.2 609.3,1645.0 C610.4,1643.8 611.6,1643.8 612.7,1644.3 C613.8,1644.9 614.8,1645.7 616.0,1648.3 C617.2,1650.9 618.5,1654.2 620.0,1660.0 C621.5,1665.8 623.6,1675.0 625.0,1683.3 C626.4,1691.7 627.2,1701.7 628.3,1710.0 C629.4,1718.3 630.4,1726.4 631.7,1733.3 C632.9,1740.3 634.6,1746.7 636.0,1751.7 C637.4,1756.7 638.7,1759.4 640.0,1763.3 C641.3,1767.2 642.6,1772.2 644.0,1775.0 C645.4,1777.8 646.8,1779.1 648.3,1780.0 C649.9,1780.9 651.7,1780.8 653.3,1780.7 C655.0,1780.6 656.8,1780.1 658.3,1779.3 C659.9,1778.6 661.3,1777.4 662.7,1776.0 C664.1,1774.6 665.2,1772.4 666.7,1770.7 C668.2,1768.9 670.3,1766.9 671.7,1765.7 C673.1,1764.4 673.9,1765.1 675.0,1763.3 C676.1,1761.6 677.1,1757.7 678.3,1755.0 C679.6,1752.3 681.3,1748.7 682.7,1747.3 C684.1,1745.9 685.4,1746.6 686.7,1746.7 C687.9,1746.7 688.9,1747.9 690.0,1747.7 C691.1,1747.4 692.2,1745.1 693.3,1745.0 C694.4,1744.9 695.4,1747.1 696.7,1747.3 C697.9,1747.6 699.4,1745.7 700.7,1746.7 C701.9,1747.7 702.7,1751.1 704.0,1753.3 C705.3,1755.6 706.9,1757.6 708.3,1760.0 C709.8,1762.4 711.3,1765.9 712.7,1767.7 C714.1,1769.4 715.4,1770.6 716.7,1770.7 C717.9,1770.8 718.9,1769.8 720.0,1768.3 C721.1,1766.8 722.1,1763.3 723.3,1761.7 C724.6,1760.0 725.9,1759.2 727.3,1758.3 C728.7,1757.5 730.1,1757.8 731.7,1756.7 C733.2,1755.6 735.3,1752.6 736.7,1751.7 C738.1,1750.7 739.4,1751.1 740.0,1751.0 C740.6,1750.9 739.2,1751.7 740.0,1751.0 C740.8,1750.3 743.3,1747.4 745.0,1746.7 C746.7,1745.9 748.5,1746.9 750.0,1746.7 C751.5,1746.4 752.6,1744.9 754.0,1745.0 C755.4,1745.1 756.8,1746.6 758.3,1747.3 C759.9,1748.1 761.7,1748.3 763.3,1749.3 C765.0,1750.3 766.7,1751.6 768.3,1753.3 C770.0,1755.1 771.7,1757.5 773.3,1760.0 C775.0,1762.5 776.7,1765.8 778.3,1768.3 C780.0,1770.8 781.7,1773.3 783.3,1775.0 C785.0,1776.7 786.7,1777.7 788.3,1778.3 C790.0,1779.0 791.7,1779.3 793.3,1779.0 C795.0,1778.7 796.7,1777.1 798.3,1776.7 C800.0,1776.3 801.7,1776.4 803.3,1776.7 C805.0,1776.9 806.7,1777.8 808.3,1778.3 C810.0,1778.9 811.7,1779.1 813.3,1780.0 C815.0,1780.9 816.7,1782.9 818.3,1784.0 C820.0,1785.1 821.8,1787.1 823.3,1786.7 C824.8,1786.3 826.1,1785.0 827.3,1781.7 C828.6,1778.3 829.4,1773.1 830.7,1766.7 C831.9,1760.3 833.4,1750.6 835.0,1743.3 C836.6,1736.1 838.5,1728.3 840.0,1723.3 C841.5,1718.3 842.6,1715.4 844.0,1713.3 C845.4,1711.2 846.9,1710.4 848.3,1710.7 C849.8,1710.9 851.3,1712.3 852.7,1715.0 C854.1,1717.7 855.3,1721.4 856.7,1726.7 C858.0,1731.9 859.3,1738.3 860.7,1746.7 C862.1,1755.0 863.6,1768.3 865.0,1776.7 C866.4,1785.0 867.9,1791.6 869.3,1796.7 C870.7,1801.8 872.0,1805.8 873.3,1807.3 C874.7,1808.8 875.9,1806.3 877.3,1805.7 C878.7,1805.0 880.1,1803.4 881.7,1803.3 C883.2,1803.2 885.0,1806.0 886.7,1805.0 C888.3,1804.0 890.0,1799.6 891.7,1797.3 C893.3,1795.1 894.9,1793.4 896.7,1791.7 C898.4,1789.9 900.7,1786.8 902.3,1786.7 C904.0,1786.5 905.1,1789.0 906.7,1790.7 C908.2,1792.3 910.1,1795.1 911.7,1796.7 C913.2,1798.2 914.6,1799.3 916.0,1800.0 C917.4,1800.7 918.7,1799.8 920.0,1800.7 C921.3,1801.5 922.6,1804.4 924.0,1805.0 C925.4,1805.6 927.2,1803.9 928.3,1804.0 C929.4,1804.1 929.6,1806.3 930.7,1805.7 C931.8,1805.0 933.6,1801.6 935.0,1800.0 C936.4,1798.4 937.8,1797.0 939.3,1796.0 C940.8,1795.0 942.7,1794.6 944.0,1794.0 C945.3,1793.4 946.2,1792.2 947.3,1792.7 C948.4,1793.1 949.4,1796.1 950.7,1796.7 C951.9,1797.2 953.4,1796.0 955.0,1796.0 C956.6,1796.0 958.3,1796.4 960.0,1796.7 C961.7,1796.9 963.4,1796.9 965.0,1797.3 C966.6,1797.8 967.7,1798.9 969.3,1799.3 C971.0,1799.8 973.2,1800.6 975.0,1800.0 C976.8,1799.4 978.3,1796.7 980.0,1796.0 C981.7,1795.3 983.4,1796.3 985.0,1796.0 C986.6,1795.7 987.9,1794.9 989.3,1794.3 C990.7,1793.7 991.8,1792.3 993.3,1792.3 C994.8,1792.3 996.7,1794.4 998.3,1794.3 C1000.0,1794.2 1001.9,1791.6 1003.3,1791.7 C1004.7,1791.8 1005.3,1793.7 1006.7,1795.0 C1008.1,1796.3 1010.0,1798.2 1011.7,1799.3 C1013.3,1800.4 1015.2,1801.3 1016.7,1801.7 C1018.2,1802.1 1019.4,1802.5 1020.7,1801.7 C1021.9,1800.8 1022.9,1798.3 1024.0,1796.7 C1025.1,1795.0 1026.1,1792.5 1027.3,1791.7 C1028.6,1790.8 1030.1,1792.1 1031.7,1791.7 C1033.2,1791.3 1035.0,1790.2 1036.7,1789.3 C1038.3,1788.5 1040.1,1788.1 1041.7,1786.7 C1043.2,1785.2 1044.5,1782.6 1046.0,1780.7 C1047.5,1778.7 1049.2,1776.3 1050.7,1775.0 C1052.2,1773.7 1053.4,1773.8 1055.0,1772.7 C1056.6,1771.6 1058.3,1770.2 1060.0,1768.3 C1061.7,1766.5 1063.6,1763.9 1065.0,1761.7 C1066.4,1759.4 1067.1,1758.1 1068.3,1755.0 C1069.6,1751.9 1071.3,1745.8 1072.7,1743.3 C1074.1,1740.8 1075.4,1741.4 1076.7,1740.0 C1077.9,1738.6 1078.9,1738.3 1080.0,1735.0 C1081.1,1731.7 1082.2,1726.9 1083.3,1720.0 C1084.4,1713.1 1085.6,1702.8 1086.7,1693.3 C1087.8,1683.9 1088.8,1673.3 1090.0,1663.3 C1091.2,1653.3 1092.6,1642.8 1094.0,1633.3 C1095.4,1623.9 1096.9,1613.2 1098.3,1606.7 C1099.8,1600.1 1101.4,1596.5 1102.7,1594.0 C1103.9,1591.5 1104.9,1591.7 1106.0,1591.7 C1107.1,1591.7 1108.2,1592.1 1109.3,1594.0 C1110.4,1595.9 1111.4,1597.9 1112.7,1603.3 C1113.9,1608.8 1115.4,1617.8 1116.7,1626.7 C1117.9,1635.6 1118.8,1645.6 1120.0,1656.7 C1121.2,1667.8 1122.6,1681.7 1124.0,1693.3 C1125.4,1705.0 1126.9,1717.2 1128.3,1726.7 C1129.8,1736.1 1131.3,1743.6 1132.7,1750.0 C1134.1,1756.4 1135.4,1761.4 1136.7,1765.0 C1137.9,1768.6 1138.8,1771.9 1140.0,1771.7 C1141.2,1771.4 1142.6,1765.6 1144.0,1763.3 C1145.4,1761.1 1146.8,1760.6 1148.3,1758.3 C1149.9,1756.1 1151.7,1752.8 1153.3,1750.0 C1155.0,1747.2 1156.8,1743.3 1158.3,1741.7 C1159.9,1740.0 1161.3,1741.9 1162.7,1740.0 C1164.1,1738.1 1165.2,1732.8 1166.7,1730.0 C1168.2,1727.2 1170.1,1725.1 1171.7,1723.3 C1173.2,1721.6 1174.6,1720.8 1176.0,1719.3 C1177.4,1717.8 1178.5,1715.2 1180.0,1714.3 C1181.5,1713.4 1183.3,1715.8 1185.0,1714.0 C1186.7,1712.2 1188.5,1706.8 1190.0,1703.3 C1191.5,1699.9 1192.6,1697.8 1194.0,1693.3 C1195.4,1688.9 1196.9,1682.8 1198.3,1676.7 C1199.8,1670.6 1201.3,1662.8 1202.7,1656.7 C1204.1,1650.6 1205.3,1644.7 1206.7,1640.0 C1208.0,1635.3 1209.4,1631.3 1210.7,1628.3 C1211.9,1625.4 1212.9,1622.3 1214.0,1622.3 C1215.1,1622.3 1215.9,1626.4 1217.3,1628.3 C1218.8,1630.3 1221.1,1631.8 1222.7,1634.0 C1224.2,1636.2 1225.3,1639.1 1226.7,1641.7 C1228.0,1644.2 1229.4,1648.2 1230.7,1649.3 C1231.9,1650.4 1233.1,1648.8 1234.0,1648.3 C1234.9,1647.9 1234.8,1649.2 1236.0,1646.7 C1237.2,1644.2 1239.4,1638.9 1241.0,1633.3 C1242.6,1627.8 1243.9,1620.6 1245.3,1613.3 C1246.7,1606.1 1248.0,1597.8 1249.3,1590.0 C1250.7,1582.2 1251.9,1572.8 1253.3,1566.7 C1254.7,1560.6 1256.2,1557.2 1257.7,1553.3 C1259.1,1549.4 1260.6,1546.0 1262.0,1543.3 C1263.4,1540.7 1264.7,1538.8 1266.0,1537.3 C1267.3,1535.8 1268.6,1534.2 1270.0,1534.3 C1271.4,1534.5 1273.1,1537.1 1274.3,1538.3 C1275.6,1539.6 1276.4,1539.7 1277.7,1541.7 C1278.9,1543.6 1280.6,1546.9 1282.0,1550.0 C1283.4,1553.1 1284.7,1555.6 1286.0,1560.0 C1287.3,1564.4 1288.6,1570.6 1290.0,1576.7 C1291.4,1582.8 1293.1,1590.6 1294.3,1596.7 C1295.6,1602.8 1296.4,1607.2 1297.7,1613.3 C1298.9,1619.4 1300.6,1627.2 1302.0,1633.3 C1303.4,1639.4 1304.7,1645.0 1306.0,1650.0 C1307.3,1655.0 1308.6,1660.3 1310.0,1663.3 C1311.4,1666.4 1313.1,1667.1 1314.3,1668.3 C1315.6,1669.6 1316.6,1671.3 1317.7,1671.0 C1318.8,1670.7 1319.7,1669.1 1321.0,1666.7 C1322.3,1664.3 1323.9,1659.4 1325.3,1656.7 C1326.7,1653.9 1328.0,1652.2 1329.3,1650.0 C1330.7,1647.8 1331.9,1646.4 1333.3,1643.3 C1334.7,1640.3 1336.2,1635.8 1337.7,1631.7 C1339.1,1627.5 1340.6,1623.3 1342.0,1618.3 C1343.4,1613.3 1344.7,1606.4 1346.0,1601.7 C1347.3,1596.9 1348.6,1593.3 1350.0,1590.0 C1351.4,1586.7 1352.9,1583.7 1354.3,1581.7 C1355.8,1579.6 1357.3,1578.2 1358.7,1577.7 C1360.1,1577.1 1361.4,1577.7 1362.7,1578.3 C1363.9,1579.0 1364.9,1579.7 1366.0,1581.7 C1367.1,1583.6 1368.2,1586.9 1369.3,1590.0 C1370.4,1593.1 1371.6,1596.9 1372.7,1600.0 C1373.8,1603.1 1374.8,1606.4 1376.0,1608.3 C1377.2,1610.3 1378.6,1610.2 1380.0,1611.7 C1381.4,1613.2 1383.1,1615.5 1384.3,1617.3 C1385.6,1619.2 1386.6,1621.8 1387.7,1622.7 C1388.8,1623.6 1389.9,1623.1 1391.0,1622.7 C1392.1,1622.2 1393.2,1620.0 1394.3,1620.0 C1395.4,1620.0 1396.6,1621.3 1397.7,1622.7 C1398.8,1624.1 1399.9,1626.4 1401.0,1628.3 C1402.1,1630.2 1403.2,1632.2 1404.3,1634.0 C1405.4,1635.8 1406.6,1638.3 1407.7,1639.0 C1408.8,1639.7 1409.7,1639.0 1411.0,1638.3 C1412.3,1637.7 1414.1,1636.9 1415.3,1635.0 C1416.6,1633.1 1417.7,1630.3 1418.7,1626.7 C1419.6,1623.1 1420.2,1619.4 1421.0,1613.3 C1421.8,1607.2 1422.5,1598.9 1423.3,1590.0 C1424.2,1581.1 1425.1,1569.4 1426.0,1560.0 C1426.9,1550.6 1427.8,1543.3 1428.7,1533.3 C1429.5,1523.3 1430.1,1516.0 1431.0,1500.0 C1431.9,1484.0 1433.2,1457.8 1434.3,1437.3 C1435.4,1416.9 1436.6,1396.8 1437.7,1377.3 C1438.8,1357.9 1439.9,1339.6 1441.0,1320.7 C1442.1,1301.8 1443.4,1279.6 1444.3,1264.0 C1445.3,1248.4 1445.9,1236.8 1446.7,1227.3 C1447.4,1217.9 1447.9,1211.9 1448.7,1207.3 C1449.4,1202.8 1450.3,1201.5 1451.0,1200.0 C1451.7,1198.5 1452.0,1198.2 1452.7,1198.3 C1453.3,1198.4 1454.3,1198.6 1455.0,1200.7 C1455.7,1202.7 1456.3,1205.1 1457.0,1210.7 C1457.7,1216.2 1458.4,1220.7 1459.3,1234.0 C1460.3,1247.3 1461.6,1271.2 1462.7,1290.7 C1463.8,1310.1 1464.9,1329.6 1466.0,1350.7 C1467.1,1371.8 1468.2,1392.4 1469.3,1417.3 C1470.4,1442.2 1471.8,1480.7 1472.7,1500.0 C1473.5,1519.3 1473.7,1521.1 1474.3,1533.3 C1475.0,1545.6 1475.8,1560.0 1476.7,1573.3 C1477.5,1586.7 1478.4,1601.7 1479.3,1613.3 C1480.2,1625.0 1481.2,1635.6 1482.0,1643.3 C1482.8,1651.1 1483.4,1655.7 1484.3,1660.0 C1485.3,1664.3 1486.6,1668.8 1487.7,1669.3 C1488.8,1669.9 1489.9,1666.0 1491.0,1663.3 C1492.1,1660.7 1493.1,1657.8 1494.3,1653.3 C1495.6,1648.9 1497.3,1642.2 1498.7,1636.7 C1500.1,1631.1 1501.3,1625.0 1502.7,1620.0 C1504.0,1615.0 1505.3,1610.4 1506.7,1606.7 C1508.1,1602.9 1509.7,1599.2 1511.0,1597.7 C1512.3,1596.2 1513.1,1597.3 1514.3,1597.7 C1515.6,1598.1 1517.4,1598.2 1518.7,1600.0 C1519.9,1601.8 1520.9,1604.2 1522.0,1608.3 C1523.1,1612.5 1524.2,1619.2 1525.3,1625.0 C1526.4,1630.8 1527.6,1636.9 1528.7,1643.3 C1529.8,1649.7 1530.8,1657.8 1532.0,1663.3 C1533.2,1668.9 1534.7,1674.1 1536.0,1676.7 C1537.3,1679.3 1538.8,1679.1 1540.0,1679.0 C1541.2,1678.9 1542.1,1677.5 1543.3,1676.0 C1544.6,1674.5 1546.4,1671.7 1547.7,1670.0 C1548.9,1668.3 1549.9,1666.8 1551.0,1666.0 C1552.1,1665.2 1553.1,1666.4 1554.3,1665.0 C1555.6,1663.6 1557.3,1659.2 1558.7,1657.3 C1560.1,1655.5 1561.3,1654.8 1562.7,1654.0 C1564.0,1653.2 1565.4,1652.3 1566.7,1652.3 C1567.9,1652.3 1569.2,1652.2 1570.3,1654.0 C1571.4,1655.8 1572.3,1660.8 1573.3,1663.3 C1574.4,1665.8 1575.4,1668.3 1576.7,1669.0 C1577.9,1669.7 1579.4,1668.1 1581.0,1667.7 C1582.6,1667.3 1584.3,1667.0 1586.0,1666.7 C1587.7,1666.3 1589.3,1665.8 1591.0,1665.7 C1592.7,1665.5 1594.6,1666.1 1596.0,1665.7 C1597.4,1665.3 1598.1,1664.9 1599.3,1663.3 C1600.6,1661.7 1601.9,1657.7 1603.3,1656.0 C1604.7,1654.3 1606.2,1654.6 1607.7,1653.3 C1609.1,1652.1 1610.6,1649.9 1612.0,1648.3 C1613.4,1646.8 1614.8,1645.1 1616.0,1644.0 C1617.2,1642.9 1618.2,1643.4 1619.3,1641.7 C1620.4,1639.9 1621.6,1636.9 1622.7,1633.3 C1623.8,1629.7 1624.8,1625.6 1626.0,1620.0 C1627.2,1614.4 1628.6,1607.8 1630.0,1600.0 C1631.4,1592.2 1632.9,1581.1 1634.3,1573.3 C1635.8,1565.6 1637.3,1560.0 1638.7,1553.3 C1640.1,1546.7 1641.4,1538.6 1642.7,1533.3 C1643.9,1528.1 1644.7,1524.7 1646.0,1521.7 C1647.3,1518.6 1648.9,1515.3 1650.3,1515.0 C1651.7,1514.7 1653.1,1517.8 1654.3,1520.0 C1655.6,1522.2 1656.6,1525.0 1657.7,1528.3 C1658.8,1531.7 1659.9,1536.1 1661.0,1540.0 C1662.1,1543.9 1662.9,1547.8 1664.3,1551.7 C1665.7,1555.6 1667.7,1559.4 1669.3,1563.3 C1671.0,1567.2 1672.4,1570.8 1674.3,1575.0 C1676.3,1579.2 1679.3,1584.2 1681.0,1588.3 C1682.7,1592.5 1683.1,1595.6 1684.3,1600.0 C1685.6,1604.4 1687.3,1609.7 1688.7,1615.0 C1690.1,1620.3 1691.3,1626.4 1692.7,1631.7 C1694.0,1636.9 1695.4,1641.4 1696.7,1646.7 C1697.9,1651.9 1698.7,1658.3 1700.0,1663.3 C1701.3,1668.3 1703.1,1672.7 1704.3,1676.7 C1705.6,1680.7 1706.3,1684.1 1707.7,1687.3 C1709.1,1690.6 1711.0,1692.7 1712.7,1696.0 C1714.3,1699.3 1716.0,1704.0 1717.7,1707.3 C1719.3,1710.7 1721.0,1713.3 1722.7,1716.0 C1724.3,1718.7 1726.1,1720.2 1727.7,1723.3 C1729.2,1726.5 1730.6,1731.4 1732.0,1735.0 C1733.4,1738.6 1734.7,1742.8 1736.0,1745.0 C1737.3,1747.2 1738.7,1748.2 1740.0,1748.3 C1741.3,1748.5 1742.5,1745.7 1744.0,1746.0 C1745.5,1746.3 1747.3,1748.5 1749.0,1750.0 C1750.7,1751.5 1752.3,1753.7 1754.0,1755.0 C1755.7,1756.3 1757.3,1756.3 1759.0,1757.7 C1760.7,1759.1 1762.3,1761.7 1764.0,1763.3 C1765.7,1765.0 1767.3,1766.6 1769.0,1767.7 C1770.7,1768.8 1772.3,1768.9 1774.0,1770.0 C1775.7,1771.1 1777.5,1773.4 1779.0,1774.0 C1780.5,1774.6 1781.6,1774.1 1783.0,1773.3 C1784.4,1772.6 1786.2,1770.3 1787.3,1769.3 C1788.5,1768.4 1788.9,1767.3 1790.0,1767.7 C1791.1,1768.1 1792.8,1771.3 1794.0,1771.7 C1795.2,1772.1 1795.9,1769.8 1797.3,1770.0 C1798.7,1770.2 1800.7,1771.6 1802.3,1772.7 C1804.0,1773.8 1805.7,1775.3 1807.3,1776.7 C1809.0,1778.0 1810.7,1779.6 1812.3,1780.7 C1814.0,1781.8 1815.7,1782.2 1817.3,1783.3 C1819.0,1784.4 1820.4,1786.1 1822.3,1787.3 C1824.3,1788.6 1826.8,1789.7 1829.0,1790.7 C1831.2,1791.7 1833.7,1791.6 1835.7,1793.3 C1837.6,1795.1 1839.1,1800.2 1840.7,1801.0 C1842.2,1801.8 1843.5,1798.7 1845.0,1798.3 C1846.5,1798.0 1848.2,1799.3 1849.7,1799.0 C1851.2,1798.7 1852.6,1797.4 1854.0,1796.7 C1855.4,1795.9 1857.1,1794.5 1858.3,1794.3 C1859.6,1794.2 1860.6,1794.6 1861.7,1795.7 C1862.8,1796.8 1863.7,1799.9 1865.0,1801.0 C1866.3,1802.1 1867.9,1801.8 1869.7,1802.3 C1871.4,1802.8 1874.7,1803.7 1875.7,1804.0" fill="none" stroke="#000" stroke-width="4" stroke-linejoin="round" stroke-linecap="round"/>
<path d="M246.0,2500.0 C246.9,2500.7 250.2,2501.6 251.7,2504.3 C253.2,2507.1 253.7,2514.9 255.0,2516.7 C256.3,2518.4 258.2,2513.9 259.3,2515.0 C260.4,2516.1 260.6,2520.6 261.7,2523.3 C262.8,2526.1 264.6,2529.6 266.0,2531.7 C267.4,2533.8 268.8,2532.4 270.0,2536.0 C271.2,2539.6 272.1,2547.1 273.3,2553.3 C274.6,2559.6 275.9,2567.8 277.3,2573.3 C278.7,2578.9 280.4,2583.2 281.7,2586.7 C282.9,2590.1 283.7,2591.5 285.0,2594.0 C286.3,2596.5 288.1,2599.3 289.3,2601.7 C290.6,2604.1 291.6,2604.4 292.7,2608.3 C293.8,2612.2 294.8,2619.7 296.0,2625.0 C297.2,2630.3 298.7,2636.7 300.0,2640.0 C301.3,2643.3 302.6,2641.1 304.0,2645.0 C305.4,2648.9 307.1,2658.9 308.3,2663.3 C309.6,2667.8 310.4,2669.2 311.7,2671.7 C312.9,2674.2 314.6,2676.3 316.0,2678.3 C317.4,2680.4 318.8,2684.3 320.0,2684.0 C321.2,2683.7 322.3,2678.2 323.3,2676.7 C324.3,2675.2 325.0,2672.5 326.0,2675.0 C327.0,2677.5 328.2,2688.8 329.3,2691.7 C330.4,2694.6 331.7,2692.7 332.7,2692.3 C333.6,2691.9 334.1,2689.3 335.0,2689.3 C335.9,2689.3 337.4,2691.8 338.3,2692.3 C339.3,2692.8 339.7,2690.8 340.7,2692.3 C341.6,2693.9 342.9,2697.6 344.0,2701.7 C345.1,2705.7 346.1,2712.5 347.3,2716.7 C348.6,2720.8 350.4,2722.9 351.7,2726.7 C352.9,2730.4 354.1,2737.0 355.0,2739.3 C355.9,2741.7 356.4,2742.5 357.3,2740.7 C358.3,2738.8 359.4,2732.1 360.7,2728.3 C361.9,2724.6 363.7,2721.9 365.0,2718.3 C366.3,2714.7 367.2,2709.9 368.3,2706.7 C369.4,2703.4 370.7,2700.1 371.7,2699.0 C372.6,2697.9 373.2,2699.0 374.0,2700.0 C374.8,2701.0 375.7,2706.7 376.7,2705.0 C377.7,2703.3 378.8,2693.1 380.0,2690.0 C381.2,2686.9 382.9,2687.9 384.0,2686.7 C385.1,2685.4 385.8,2681.8 386.7,2682.7 C387.6,2683.5 388.3,2689.1 389.3,2691.7 C390.3,2694.3 391.4,2697.2 392.7,2698.3 C393.9,2699.4 395.4,2697.5 396.7,2698.3 C397.9,2699.2 398.9,2701.8 400.0,2703.3 C401.1,2704.9 402.1,2707.4 403.3,2707.7 C404.6,2707.9 406.6,2703.2 407.7,2705.0 C408.8,2706.8 409.2,2714.2 410.0,2718.3 C410.8,2722.5 411.8,2727.9 412.7,2730.0 C413.5,2732.1 414.1,2731.5 415.0,2730.7 C415.9,2729.8 417.2,2724.6 418.3,2725.0 C419.4,2725.4 420.6,2731.8 421.7,2733.3 C422.8,2734.8 423.9,2734.8 425.0,2734.0 C426.1,2733.2 426.9,2730.9 428.3,2728.3 C429.7,2725.7 431.7,2722.2 433.3,2718.3 C435.0,2714.4 436.9,2707.9 438.3,2705.0 C439.7,2702.1 440.4,2703.3 441.7,2700.7 C442.9,2698.1 444.6,2692.2 446.0,2689.3 C447.4,2686.4 448.5,2685.6 450.0,2683.3 C451.5,2681.1 453.4,2678.3 455.0,2676.0 C456.6,2673.7 458.1,2672.6 459.3,2669.3 C460.6,2666.1 461.4,2661.0 462.7,2656.7 C463.9,2652.3 465.3,2646.4 466.7,2643.3 C468.0,2640.3 469.4,2641.4 470.7,2638.3 C471.9,2635.3 473.0,2629.1 474.0,2625.0 C475.0,2620.9 475.4,2615.7 476.7,2614.0 C477.9,2612.3 480.3,2615.4 481.7,2615.0 C483.1,2614.6 483.9,2612.8 485.0,2611.7 C486.1,2610.6 487.2,2610.3 488.3,2608.3 C489.4,2606.4 490.4,2603.9 491.7,2600.0 C492.9,2596.1 494.6,2590.6 496.0,2585.0 C497.4,2579.4 498.8,2573.1 500.0,2566.7 C501.2,2560.3 502.1,2552.8 503.3,2546.7 C504.6,2540.6 506.1,2535.0 507.3,2530.0 C508.6,2525.0 509.6,2519.7 510.7,2516.7 C511.8,2513.6 512.7,2512.8 514.0,2511.7 C515.3,2510.6 517.1,2510.8 518.3,2510.0 C519.6,2509.2 520.7,2506.7 521.7,2506.7 C522.6,2506.7 523.2,2506.9 524.0,2510.0 C524.8,2513.1 525.7,2518.9 526.7,2525.0 C527.7,2531.1 528.9,2539.7 530.0,2546.7 C531.1,2553.6 532.2,2562.9 533.3,2566.7 C534.4,2570.4 535.7,2569.1 536.7,2569.3 C537.7,2569.6 538.3,2567.5 539.3,2568.3 C540.3,2569.2 541.6,2574.6 542.7,2574.3 C543.8,2574.1 544.8,2569.5 546.0,2566.7 C547.2,2563.8 548.8,2558.4 550.0,2557.3 C551.2,2556.2 552.2,2558.7 553.3,2560.0 C554.4,2561.3 555.7,2565.6 556.7,2565.0 C557.7,2564.4 558.5,2559.6 559.3,2556.7 C560.2,2553.7 560.6,2547.9 561.7,2547.3 C562.8,2546.8 564.7,2551.7 566.0,2553.3 C567.3,2555.0 568.2,2555.2 569.3,2557.3 C570.4,2559.4 571.6,2563.2 572.7,2566.0 C573.8,2568.8 574.9,2574.2 576.0,2574.0 C577.1,2573.8 578.4,2567.8 579.3,2565.0 C580.3,2562.2 580.4,2558.8 581.7,2557.3 C582.9,2555.8 585.3,2558.3 586.7,2556.0 C588.1,2553.7 588.9,2547.7 590.0,2543.3 C591.1,2539.0 592.2,2535.0 593.3,2530.0 C594.4,2525.0 595.4,2516.4 596.7,2513.3 C597.9,2510.3 599.6,2513.3 600.7,2511.7 C601.8,2510.0 602.3,2506.3 603.3,2503.3 C604.3,2500.4 605.6,2494.7 606.7,2494.0 C607.8,2493.3 608.9,2497.3 610.0,2499.3 C611.1,2501.3 611.9,2505.3 613.3,2506.0 C614.7,2506.7 616.9,2505.8 618.3,2503.3 C619.7,2500.9 620.9,2495.0 621.8,2491.4 C622.7,2487.8 623.3,2483.8 623.8,2481.9 C624.3,2480.0 624.3,2479.6 624.8,2479.9 C625.3,2480.2 626.0,2481.3 626.6,2483.5 C627.2,2485.7 627.9,2490.1 628.6,2493.0 C629.3,2495.9 629.8,2498.6 630.6,2501.0 C631.4,2503.4 632.4,2505.2 633.3,2507.3 C634.1,2509.4 634.9,2511.8 635.7,2513.7 C636.5,2515.5 637.4,2517.1 638.1,2518.4 C638.8,2519.7 639.3,2521.1 640.1,2521.6 C640.9,2522.1 642.2,2521.3 642.9,2521.6 C643.6,2521.9 643.9,2522.0 644.4,2523.2 C644.9,2524.4 645.1,2526.8 645.6,2528.7 C646.1,2530.5 646.6,2533.0 647.2,2534.3 C647.8,2535.6 648.5,2536.8 649.2,2536.7 C649.9,2536.6 650.8,2534.6 651.6,2533.5 C652.4,2532.4 653.3,2531.2 654.0,2530.3 C654.7,2529.4 655.4,2529.4 656.0,2527.9 C656.6,2526.4 656.9,2524.0 657.5,2521.6 C658.1,2519.2 658.8,2517.0 659.5,2513.7 C660.2,2510.4 661.1,2506.1 661.9,2501.7 C662.7,2497.3 663.6,2491.8 664.3,2487.5 C665.0,2483.2 665.4,2480.0 665.9,2475.6 C666.4,2471.2 667.0,2465.5 667.5,2461.3 C668.0,2457.1 668.5,2453.5 669.0,2450.2 C669.5,2446.9 670.2,2443.3 670.6,2441.4 C671.0,2439.5 670.9,2439.7 671.4,2439.0 C671.9,2438.3 672.8,2438.7 673.4,2437.5 C674.0,2436.3 674.5,2434.0 675.0,2431.9 C675.5,2429.8 675.9,2426.8 676.2,2424.8 C676.5,2422.8 676.8,2423.0 677.0,2420.0 C677.2,2417.0 676.6,2413.3 677.3,2406.7 C678.1,2400.0 680.2,2390.6 681.7,2380.0 C683.1,2369.4 684.6,2355.6 686.0,2343.3 C687.4,2331.1 688.7,2318.9 690.0,2306.7 C691.3,2294.4 692.6,2283.3 694.0,2270.0 C695.4,2256.7 696.9,2239.4 698.3,2226.7 C699.8,2213.9 701.4,2201.9 702.7,2193.3 C703.9,2184.7 704.9,2178.8 706.0,2175.0 C707.1,2171.2 708.2,2171.5 709.3,2170.7 C710.4,2169.8 711.6,2169.3 712.7,2170.0 C713.8,2170.7 714.9,2171.1 716.0,2175.0 C717.1,2178.9 718.2,2186.9 719.3,2193.3 C720.4,2199.7 721.6,2205.0 722.7,2213.3 C723.8,2221.7 724.8,2231.7 726.0,2243.3 C727.2,2255.0 728.7,2270.0 730.0,2283.3 C731.3,2296.7 732.6,2308.3 734.0,2323.3 C735.4,2338.3 736.9,2357.2 738.3,2373.3 C739.8,2389.4 741.6,2405.6 742.7,2420.0 C743.8,2434.4 744.2,2450.0 745.0,2460.0 C745.8,2470.0 746.5,2472.2 747.3,2480.0 C748.2,2487.8 749.0,2497.8 750.0,2506.7 C751.0,2515.6 752.2,2525.0 753.3,2533.3 C754.4,2541.7 755.6,2549.2 756.7,2556.7 C757.8,2564.2 758.9,2572.2 760.0,2578.3 C761.1,2584.4 762.2,2588.9 763.3,2593.3 C764.4,2597.8 765.3,2601.1 766.7,2605.0 C768.1,2608.9 770.1,2613.6 771.7,2616.7 C773.2,2619.7 774.6,2620.3 776.0,2623.3 C777.4,2626.4 778.8,2632.8 780.0,2635.0 C781.2,2637.2 782.2,2636.1 783.3,2636.7 C784.4,2637.2 785.4,2636.1 786.7,2638.3 C787.9,2640.6 789.3,2646.1 790.7,2650.0 C792.1,2653.9 793.6,2658.1 795.0,2661.7 C796.4,2665.3 798.1,2666.9 799.3,2671.7 C800.6,2676.4 801.6,2686.1 802.7,2690.0 C803.8,2693.9 804.8,2691.4 806.0,2695.0 C807.2,2698.6 808.5,2705.8 810.0,2711.7 C811.5,2717.5 813.6,2726.1 815.0,2730.0 C816.4,2733.9 817.1,2732.2 818.3,2735.0 C819.6,2737.8 821.3,2743.9 822.7,2746.7 C824.1,2749.4 825.3,2751.7 826.7,2751.7 C828.0,2751.7 829.3,2748.2 830.7,2746.7 C832.1,2745.2 833.7,2744.3 835.0,2742.7 C836.3,2741.0 837.2,2739.1 838.3,2736.7 C839.4,2734.3 840.4,2730.4 841.7,2728.3 C842.9,2726.2 844.6,2725.3 846.0,2724.0 C847.4,2722.7 848.9,2721.8 850.0,2720.7 C851.1,2719.6 851.7,2717.2 852.7,2717.3 C853.7,2717.5 855.1,2721.9 856.0,2721.7 C856.9,2721.4 857.4,2716.7 858.3,2716.0 C859.3,2715.3 860.6,2717.5 861.7,2717.3 C862.8,2717.2 864.0,2714.8 865.0,2715.0 C866.0,2715.2 866.8,2716.7 867.7,2718.3 C868.5,2720.0 868.9,2723.9 870.0,2725.0 C871.1,2726.1 872.8,2725.6 874.0,2725.0 C875.2,2724.4 876.2,2722.5 877.3,2721.7 C878.4,2720.8 879.7,2719.4 880.7,2720.0 C881.7,2720.6 882.3,2723.6 883.3,2725.0 C884.3,2726.4 885.4,2728.3 886.7,2728.3 C887.9,2728.3 889.3,2726.7 890.7,2725.0 C892.1,2723.3 893.7,2720.9 895.0,2718.3 C896.3,2715.7 897.2,2711.2 898.3,2709.3 C899.4,2707.5 900.4,2707.7 901.7,2707.3 C902.9,2707.0 904.7,2706.3 906.0,2707.3 C907.3,2708.3 908.4,2712.1 909.3,2713.3 C910.3,2714.6 910.7,2711.9 911.7,2715.0 C912.6,2718.1 913.9,2727.2 915.0,2731.7 C916.1,2736.1 917.4,2738.9 918.3,2741.7 C919.3,2744.4 919.8,2746.5 920.7,2748.3 C921.5,2750.2 922.1,2753.5 923.3,2752.7 C924.6,2751.8 926.9,2747.1 928.3,2743.3 C929.7,2739.6 930.6,2734.4 931.7,2730.0 C932.8,2725.6 933.9,2720.8 935.0,2716.7 C936.1,2712.5 937.2,2709.4 938.3,2705.0 C939.4,2700.6 940.6,2694.4 941.7,2690.0 C942.8,2685.6 943.7,2680.8 945.0,2678.3 C946.3,2675.8 948.1,2675.8 949.3,2675.0 C950.6,2674.2 951.6,2673.1 952.7,2673.3 C953.8,2673.6 954.9,2675.6 956.0,2676.7 C957.1,2677.8 958.2,2677.8 959.3,2680.0 C960.4,2682.2 961.6,2686.9 962.7,2690.0 C963.8,2693.1 964.9,2694.4 966.0,2698.3 C967.1,2702.2 968.2,2710.0 969.3,2713.3 C970.4,2716.7 971.6,2716.9 972.7,2718.3 C973.8,2719.7 974.9,2721.1 976.0,2721.7 C977.1,2722.2 978.2,2720.8 979.3,2721.7 C980.4,2722.5 981.6,2725.8 982.7,2726.7 C983.8,2727.5 984.9,2728.3 986.0,2726.7 C987.1,2725.0 988.2,2719.2 989.3,2716.7 C990.4,2714.2 991.6,2712.2 992.7,2711.7 C993.8,2711.1 994.8,2713.6 996.0,2713.3 C997.2,2713.1 998.8,2713.3 1000.0,2710.0 C1001.2,2706.7 1002.2,2696.2 1003.3,2693.3 C1004.4,2690.4 1005.6,2692.4 1006.7,2692.7 C1007.8,2692.9 1008.9,2694.8 1010.0,2695.0 C1011.1,2695.2 1012.2,2693.6 1013.3,2694.0 C1014.4,2694.4 1015.4,2697.4 1016.7,2697.3 C1017.9,2697.2 1019.3,2695.6 1020.7,2693.3 C1022.1,2691.1 1023.6,2685.9 1025.0,2684.0 C1026.4,2682.1 1027.8,2681.7 1029.3,2681.7 C1030.9,2681.7 1033.0,2682.3 1034.3,2684.0 C1035.7,2685.7 1036.3,2689.4 1037.3,2691.7 C1038.4,2693.9 1039.4,2696.8 1040.7,2697.3 C1041.9,2697.9 1043.9,2695.4 1045.0,2695.0 C1046.1,2694.6 1046.5,2695.9 1047.3,2695.0 C1048.2,2694.1 1049.1,2689.3 1050.0,2689.3 C1050.9,2689.3 1051.7,2693.2 1052.7,2695.0 C1053.7,2696.8 1054.9,2700.0 1056.0,2700.0 C1057.1,2700.0 1058.2,2696.8 1059.3,2695.0 C1060.4,2693.2 1061.4,2691.0 1062.7,2689.3 C1063.9,2687.7 1065.6,2687.1 1066.7,2685.0 C1067.8,2682.9 1068.3,2680.6 1069.3,2676.7 C1070.3,2672.8 1071.7,2664.4 1072.7,2661.7 C1073.6,2658.9 1074.2,2658.9 1075.0,2660.0 C1075.8,2661.1 1076.7,2665.8 1077.7,2668.3 C1078.6,2670.8 1079.7,2674.7 1080.7,2675.0 C1081.6,2675.3 1082.6,2671.9 1083.3,2670.0 C1084.1,2668.1 1084.3,2665.0 1085.0,2663.3 C1085.7,2661.7 1086.4,2661.6 1087.3,2660.0 C1088.3,2658.4 1089.6,2654.0 1090.7,2654.0 C1091.8,2654.0 1092.9,2657.3 1094.0,2660.0 C1095.1,2662.7 1096.2,2666.9 1097.3,2670.0 C1098.4,2673.1 1099.6,2676.4 1100.7,2678.3 C1101.8,2680.3 1102.7,2681.1 1104.0,2681.7 C1105.3,2682.2 1107.1,2682.5 1108.3,2681.7 C1109.6,2680.8 1110.7,2678.3 1111.7,2676.7 C1112.7,2675.0 1113.5,2674.4 1114.3,2671.7 C1115.2,2668.9 1116.0,2662.8 1116.7,2660.0 C1117.3,2657.2 1117.7,2655.6 1118.3,2655.0 C1119.0,2654.4 1119.8,2653.6 1120.7,2656.7 C1121.5,2659.7 1122.4,2668.8 1123.3,2673.3 C1124.2,2677.9 1125.0,2682.9 1126.0,2684.0 C1127.0,2685.1 1128.4,2681.5 1129.3,2680.0 C1130.3,2678.5 1130.7,2674.9 1131.7,2675.0 C1132.6,2675.1 1133.9,2678.2 1135.0,2680.7 C1136.1,2683.2 1137.4,2687.9 1138.3,2690.0 C1139.3,2692.1 1139.8,2692.2 1140.7,2693.3 C1141.5,2694.4 1142.3,2698.9 1143.3,2696.7 C1144.3,2694.4 1145.4,2683.3 1146.7,2680.0 C1147.9,2676.7 1149.4,2678.9 1150.7,2676.7 C1151.9,2674.4 1152.9,2670.8 1154.0,2666.7 C1155.1,2662.5 1156.1,2655.8 1157.3,2651.7 C1158.6,2647.5 1160.4,2645.6 1161.7,2641.7 C1162.9,2637.8 1164.1,2630.7 1165.0,2628.3 C1165.9,2626.0 1166.5,2626.7 1167.3,2627.7 C1168.2,2628.6 1169.0,2632.9 1170.0,2634.0 C1171.0,2635.1 1172.2,2634.7 1173.3,2634.0 C1174.4,2633.3 1175.7,2630.7 1176.7,2630.0 C1177.7,2629.3 1178.3,2628.6 1179.3,2630.0 C1180.3,2631.4 1181.6,2635.7 1182.7,2638.3 C1183.8,2641.0 1184.9,2644.6 1186.0,2646.0 C1187.1,2647.4 1188.4,2644.9 1189.3,2646.7 C1190.3,2648.4 1190.7,2654.2 1191.7,2656.7 C1192.6,2659.2 1193.9,2659.6 1195.0,2661.7 C1196.1,2663.8 1197.2,2668.9 1198.3,2669.3 C1199.4,2669.7 1200.8,2665.0 1201.7,2664.0 C1202.5,2663.0 1202.2,2663.3 1203.3,2663.3 C1204.4,2663.3 1206.8,2664.4 1208.3,2664.0 C1209.9,2663.6 1211.3,2660.2 1212.7,2660.7 C1214.1,2661.1 1215.4,2665.0 1216.7,2666.7 C1217.9,2668.3 1218.8,2670.9 1220.0,2670.7 C1221.2,2670.4 1222.8,2666.4 1224.0,2665.0 C1225.2,2663.6 1226.2,2662.1 1227.3,2662.3 C1228.4,2662.6 1229.6,2666.1 1230.7,2666.7 C1231.8,2667.3 1232.8,2664.7 1234.0,2666.0 C1235.2,2667.3 1236.4,2674.2 1237.7,2674.3 C1238.9,2674.4 1240.2,2670.2 1241.7,2666.7 C1243.2,2663.2 1245.3,2657.2 1246.7,2653.3 C1248.1,2649.4 1248.9,2646.3 1250.0,2643.3 C1251.1,2640.4 1251.9,2637.1 1253.3,2635.7 C1254.7,2634.3 1256.9,2634.3 1258.3,2635.0 C1259.7,2635.7 1260.6,2638.9 1261.7,2640.0 C1262.8,2641.1 1263.8,2642.9 1265.0,2641.7 C1266.2,2640.4 1267.7,2632.2 1269.0,2632.3 C1270.3,2632.5 1271.4,2640.0 1272.7,2642.7 C1273.9,2645.3 1275.6,2646.8 1276.7,2648.3 C1277.8,2649.8 1278.2,2651.7 1279.3,2651.7 C1280.4,2651.7 1282.1,2648.2 1283.3,2648.3 C1284.6,2648.5 1285.4,2653.7 1286.7,2652.7 C1287.9,2651.7 1289.3,2643.2 1290.7,2642.3 C1292.1,2641.5 1293.7,2648.6 1295.0,2647.7 C1296.3,2646.7 1296.9,2637.8 1298.3,2636.7 C1299.7,2635.6 1301.7,2640.9 1303.3,2641.0 C1305.0,2641.1 1306.9,2639.3 1308.3,2637.3 C1309.7,2635.4 1310.6,2631.2 1311.7,2629.3 C1312.8,2627.4 1313.7,2625.1 1315.0,2626.0 C1316.3,2626.9 1318.1,2634.7 1319.3,2635.0 C1320.6,2635.3 1321.4,2628.5 1322.7,2627.7 C1323.9,2626.8 1325.4,2627.9 1326.7,2630.0 C1327.9,2632.1 1328.9,2636.2 1330.0,2640.0 C1331.1,2643.8 1332.3,2650.3 1333.3,2652.7 C1334.3,2655.1 1335.0,2652.0 1336.0,2654.3 C1337.0,2656.7 1338.2,2663.8 1339.3,2666.7 C1340.4,2669.6 1341.4,2672.5 1342.7,2671.7 C1343.9,2670.8 1345.3,2665.8 1346.7,2661.7 C1348.0,2657.5 1349.3,2651.9 1350.7,2646.7 C1352.1,2641.4 1353.6,2635.8 1355.0,2630.0 C1356.4,2624.2 1357.9,2616.9 1359.3,2611.7 C1360.7,2606.4 1362.0,2601.8 1363.3,2598.3 C1364.7,2594.9 1366.1,2592.1 1367.3,2591.0 C1368.6,2589.9 1369.7,2590.4 1370.7,2591.7 C1371.7,2592.9 1372.4,2596.4 1373.3,2598.3 C1374.2,2600.3 1374.9,2602.8 1376.0,2603.3 C1377.1,2603.9 1378.7,2600.7 1380.0,2601.7 C1381.3,2602.6 1382.8,2605.9 1384.0,2609.0 C1385.2,2612.1 1386.3,2617.8 1387.3,2620.0 C1388.3,2622.2 1389.0,2623.7 1390.0,2622.3 C1391.0,2620.9 1392.1,2614.4 1393.3,2611.7 C1394.6,2608.9 1396.2,2605.7 1397.3,2605.7 C1398.4,2605.7 1399.1,2609.3 1400.0,2611.7 C1400.9,2614.1 1401.7,2617.9 1402.7,2620.0 C1403.7,2622.1 1404.8,2623.7 1406.0,2624.3 C1407.2,2625.0 1408.7,2623.8 1410.0,2624.0 C1411.3,2624.2 1412.6,2626.3 1414.0,2625.7 C1415.4,2625.0 1417.1,2621.8 1418.3,2620.0 C1419.6,2618.2 1420.6,2617.2 1421.7,2615.0 C1422.8,2612.8 1423.9,2607.2 1425.0,2606.7 C1426.1,2606.1 1427.2,2611.8 1428.3,2611.7 C1429.4,2611.5 1430.3,2607.1 1431.7,2605.7 C1433.1,2604.3 1435.0,2604.6 1436.7,2603.3 C1438.3,2602.1 1440.0,2598.7 1441.7,2598.3 C1443.3,2597.9 1445.2,2599.6 1446.7,2601.0 C1448.2,2602.4 1449.3,2605.2 1450.7,2606.7 C1452.1,2608.2 1453.7,2607.9 1455.0,2610.0 C1456.3,2612.1 1457.2,2616.8 1458.3,2619.3 C1459.4,2621.8 1460.6,2623.8 1461.7,2625.0 C1462.8,2626.2 1464.0,2625.3 1465.0,2626.7 C1466.0,2628.1 1466.7,2632.8 1467.7,2633.3 C1468.6,2633.9 1469.4,2630.4 1470.7,2630.0 C1471.9,2629.6 1473.6,2631.8 1475.0,2630.7 C1476.4,2629.6 1477.9,2625.9 1479.3,2623.3 C1480.7,2620.7 1482.1,2619.4 1483.3,2615.0 C1484.6,2610.6 1485.6,2602.5 1486.7,2596.7 C1487.8,2590.8 1489.0,2584.9 1490.0,2580.0 C1491.0,2575.1 1491.7,2569.6 1492.7,2567.3 C1493.7,2565.1 1495.1,2565.7 1496.0,2566.7 C1496.9,2567.7 1497.4,2571.1 1498.3,2573.3 C1499.3,2575.6 1500.6,2577.5 1501.7,2580.0 C1502.8,2582.5 1503.6,2585.3 1505.0,2588.3 C1506.4,2591.4 1508.6,2595.3 1510.0,2598.3 C1511.4,2601.4 1512.1,2604.4 1513.3,2606.7 C1514.6,2608.9 1515.9,2609.4 1517.3,2611.7 C1518.7,2613.9 1520.1,2617.7 1521.7,2620.0 C1523.2,2622.3 1525.0,2624.0 1526.7,2625.7 C1528.3,2627.3 1530.3,2628.8 1531.7,2630.0 C1533.1,2631.2 1533.6,2632.3 1535.0,2632.7 C1536.4,2633.1 1538.6,2630.8 1540.0,2632.3 C1541.4,2633.8 1542.3,2639.4 1543.3,2641.7 C1544.3,2643.9 1545.0,2645.7 1546.0,2645.7 C1547.0,2645.7 1548.4,2642.4 1549.3,2641.7 C1550.3,2640.9 1550.7,2640.1 1551.7,2641.0 C1552.6,2641.9 1553.9,2647.1 1555.0,2647.3 C1556.1,2647.6 1557.2,2643.3 1558.3,2642.7 C1559.4,2642.0 1560.6,2642.4 1561.7,2643.3 C1562.8,2644.3 1563.9,2646.9 1565.0,2648.3 C1566.1,2649.7 1567.2,2651.8 1568.3,2651.7 C1569.4,2651.5 1570.4,2647.8 1571.7,2647.3 C1572.9,2646.9 1574.6,2649.9 1576.0,2649.0 C1577.4,2648.1 1578.7,2644.7 1580.0,2641.7 C1581.3,2638.6 1582.6,2634.0 1584.0,2630.7 C1585.4,2627.3 1587.1,2623.4 1588.3,2621.7 C1589.6,2619.9 1590.3,2620.2 1591.7,2620.0 C1593.1,2619.8 1595.3,2620.1 1596.7,2620.7 C1598.1,2621.2 1598.8,2622.5 1600.0,2623.3 C1601.2,2624.2 1602.8,2624.1 1604.0,2625.7 C1605.2,2627.2 1606.1,2630.7 1607.3,2632.7 C1608.6,2634.6 1610.4,2636.4 1611.7,2637.3 C1612.9,2638.3 1613.9,2638.9 1615.0,2638.3 C1616.1,2637.8 1617.2,2633.4 1618.3,2634.0 C1619.4,2634.6 1620.4,2641.5 1621.7,2641.7 C1622.9,2641.8 1624.6,2637.5 1626.0,2635.0 C1627.4,2632.5 1628.8,2629.2 1630.0,2626.7 C1631.2,2624.2 1632.3,2621.1 1633.3,2620.0 C1634.3,2618.9 1634.9,2618.3 1636.0,2620.0 C1637.1,2621.7 1638.5,2628.6 1640.0,2630.0 C1641.5,2631.4 1643.4,2629.6 1645.0,2628.3 C1646.6,2627.1 1648.1,2623.1 1649.3,2622.3 C1650.6,2621.6 1651.4,2623.8 1652.7,2624.0 C1653.9,2624.2 1655.3,2622.3 1656.7,2623.3 C1658.0,2624.3 1659.3,2629.0 1660.7,2630.0 C1662.1,2631.0 1663.6,2628.7 1665.0,2629.3 C1666.4,2630.0 1667.9,2632.8 1669.3,2634.0 C1670.7,2635.2 1672.0,2636.6 1673.3,2636.7 C1674.7,2636.7 1676.1,2633.5 1677.3,2634.3 C1678.6,2635.2 1679.4,2638.2 1680.7,2641.7 C1681.9,2645.1 1683.6,2650.3 1685.0,2655.0 C1686.4,2659.7 1687.7,2667.4 1689.3,2670.0 C1691.0,2672.6 1693.7,2668.7 1695.0,2670.7 C1696.3,2672.6 1696.5,2679.1 1697.3,2681.7 C1698.2,2684.2 1699.0,2686.6 1700.0,2686.0 C1701.0,2685.4 1702.3,2679.1 1703.3,2678.3 C1704.4,2677.6 1705.4,2683.1 1706.3,2681.7 C1707.3,2680.3 1708.0,2674.4 1709.0,2670.0 C1710.0,2665.6 1711.1,2658.3 1712.3,2655.0 C1713.6,2651.7 1715.1,2652.8 1716.3,2650.0 C1717.6,2647.2 1718.6,2641.9 1719.7,2638.3 C1720.8,2634.7 1721.9,2630.6 1723.0,2628.3 C1724.1,2626.1 1725.3,2625.7 1726.3,2625.0 C1727.3,2624.3 1728.1,2621.8 1729.0,2624.0 C1729.9,2626.2 1730.8,2633.4 1731.7,2638.3 C1732.5,2643.2 1733.2,2649.2 1734.0,2653.3 C1734.8,2657.5 1735.2,2660.6 1736.3,2663.3 C1737.4,2666.1 1739.4,2667.2 1740.7,2670.0 C1741.9,2672.8 1742.9,2676.4 1744.0,2680.0 C1745.1,2683.6 1746.4,2688.9 1747.3,2691.7 C1748.3,2694.4 1748.7,2695.7 1749.7,2696.7 C1750.6,2697.6 1752.0,2698.4 1753.0,2697.3 C1754.0,2696.2 1754.7,2692.3 1755.7,2690.0 C1756.7,2687.7 1757.9,2683.6 1759.0,2683.3 C1760.1,2683.1 1761.1,2687.1 1762.3,2688.3 C1763.6,2689.6 1765.1,2690.1 1766.3,2691.0 C1767.6,2691.9 1768.6,2693.4 1769.7,2694.0 C1770.8,2694.6 1771.9,2693.1 1773.0,2694.3 C1774.1,2695.6 1775.3,2699.2 1776.3,2701.7 C1777.3,2704.2 1778.1,2708.4 1779.0,2709.3 C1779.9,2710.3 1780.7,2709.3 1781.7,2707.3 C1782.7,2705.3 1783.9,2700.2 1785.0,2697.3 C1786.1,2694.4 1787.4,2691.2 1788.3,2690.0 C1789.3,2688.8 1789.7,2688.3 1790.7,2690.0 C1791.6,2691.7 1792.9,2700.0 1794.0,2700.0 C1795.1,2700.0 1796.2,2692.1 1797.3,2690.0 C1798.4,2687.9 1799.6,2687.9 1800.7,2687.7 C1801.8,2687.4 1802.9,2686.0 1804.0,2688.3 C1805.1,2690.7 1806.2,2697.5 1807.3,2701.7 C1808.4,2705.8 1809.6,2710.3 1810.7,2713.3 C1811.8,2716.4 1812.9,2718.4 1814.0,2720.0 C1815.1,2721.6 1816.2,2721.7 1817.3,2722.7 C1818.4,2723.7 1819.6,2725.2 1820.7,2726.0 C1821.8,2726.8 1822.9,2728.4 1824.0,2727.7 C1825.1,2726.9 1826.1,2722.9 1827.3,2721.7 C1828.6,2720.4 1830.2,2719.8 1831.7,2720.0 C1833.2,2720.2 1835.0,2720.6 1836.3,2722.7 C1837.7,2724.8 1838.6,2730.9 1839.7,2732.7 C1840.8,2734.4 1841.9,2733.7 1843.0,2733.3 C1844.1,2733.0 1845.2,2730.8 1846.3,2730.7 C1847.4,2730.6 1848.4,2731.2 1849.7,2732.7 C1850.9,2734.1 1852.8,2739.2 1854.0,2739.3 C1855.2,2739.4 1855.8,2735.6 1856.7,2733.3 C1857.5,2731.1 1858.1,2726.6 1859.0,2725.7 C1859.9,2724.7 1861.2,2726.3 1862.3,2727.7 C1863.4,2729.1 1864.6,2732.6 1865.7,2734.0 C1866.8,2735.4 1867.8,2736.4 1869.0,2736.0 C1870.2,2735.6 1871.9,2732.1 1873.0,2731.7 C1874.1,2731.2 1875.2,2733.1 1875.7,2733.3" fill="none" stroke="#000" stroke-width="4" stroke-linejoin="round" stroke-linecap="round"/>
<g stroke="#000" stroke-width="3.9" fill="none" stroke-linecap="square">
<path d="M244.8,993.8 V41.8 H1876.0 V2896.3 H244.9 V1944.9"/>
<line x1="246.1" y1="993.8" x2="246.1" y2="1944.9"/>
<line x1="244.8" y1="993.8" x2="1876.0" y2="993.8"/>
<line x1="244.9" y1="1944.9" x2="1876.0" y2="1944.9"/>
</g>
<g stroke="#000" stroke-width="3.6">
<line x1="244.9" y1="929.7" x2="265.4" y2="929.7"/>
<line x1="244.9" y1="802.9" x2="265.4" y2="802.9"/>
<line x1="244.9" y1="676.1" x2="265.4" y2="676.1"/>
<line x1="244.9" y1="549.3" x2="265.4" y2="549.3"/>
<line x1="244.9" y1="422.5" x2="265.4" y2="422.5"/>
<line x1="244.9" y1="295.7" x2="265.4" y2="295.7"/>
<line x1="244.9" y1="168.9" x2="265.4" y2="168.9"/>
<line x1="244.9" y1="1943.3" x2="265.4" y2="1943.3"/>
<line x1="244.9" y1="1807.3" x2="265.4" y2="1807.3"/>
<line x1="244.9" y1="1671.3" x2="265.4" y2="1671.3"/>
<line x1="244.9" y1="1535.3" x2="265.4" y2="1535.3"/>
<line x1="244.9" y1="1399.3" x2="265.4" y2="1399.3"/>
<line x1="244.9" y1="1263.3" x2="265.4" y2="1263.3"/>
<line x1="244.9" y1="1127.3" x2="265.4" y2="1127.3"/>
<line x1="244.9" y1="2867.6" x2="265.4" y2="2867.6"/>
<line x1="244.9" y1="2752.3" x2="265.4" y2="2752.3"/>
<line x1="244.9" y1="2637.1" x2="265.4" y2="2637.1"/>
<line x1="244.9" y1="2521.8" x2="265.4" y2="2521.8"/>
<line x1="244.9" y1="2406.6" x2="265.4" y2="2406.6"/>
<line x1="244.9" y1="2291.3" x2="265.4" y2="2291.3"/>
<line x1="244.9" y1="2176.1" x2="265.4" y2="2176.1"/>
<line x1="244.9" y1="2060.8" x2="265.4" y2="2060.8"/>
<line x1="237.5" y1="1068.7" x2="257.7" y2="1068.7"/>
<line x1="448.7" y1="2896.3" x2="448.7" y2="2876.1000000000004"/>
<line x1="652.5" y1="2896.3" x2="652.5" y2="2876.1000000000004"/>
<line x1="856.4" y1="2896.3" x2="856.4" y2="2876.1000000000004"/>
<line x1="1060.3" y1="2896.3" x2="1060.3" y2="2876.1000000000004"/>
<line x1="1264.1" y1="2896.3" x2="1264.1" y2="2876.1000000000004"/>
<line x1="1468.0" y1="2896.3" x2="1468.0" y2="2876.1000000000004"/>
<line x1="1671.9" y1="2896.3" x2="1671.9" y2="2876.1000000000004"/>
</g>
<text x="222.5" y="947.2" font-size="57" text-anchor="end" font-family='"Liberation Serif", serif' fill="#000">0</text>
<text x="222.5" y="820.4" font-size="57" text-anchor="end" font-family='"Liberation Serif", serif' fill="#000">100</text>
<text x="222.5" y="693.6" font-size="57" text-anchor="end" font-family='"Liberation Serif", serif' fill="#000">200</text>
<text x="222.5" y="566.8" font-size="57" text-anchor="end" font-family='"Liberation Serif", serif' fill="#000">300</text>
<text x="222.5" y="440.0" font-size="57" text-anchor="end" font-family='"Liberation Serif", serif' fill="#000">400</text>
<text x="222.5" y="313.2" font-size="57" text-anchor="end" font-family='"Liberation Serif", serif' fill="#000">500</text>
<text x="222.5" y="186.4" font-size="57" text-anchor="end" font-family='"Liberation Serif", serif' fill="#000">600</text>
<text x="222.5" y="59.6" font-size="57" text-anchor="end" font-family='"Liberation Serif", serif' fill="#000">700</text>
<text x="222.0" y="1957.8" font-size="43.5" text-anchor="end" font-family='"Liberation Serif", serif' fill="#000">-100</text>
<text x="222.0" y="1821.8" font-size="43.5" text-anchor="end" font-family='"Liberation Serif", serif' fill="#000">0</text>
<text x="222.0" y="1685.8" font-size="43.5" text-anchor="end" font-family='"Liberation Serif", serif' fill="#000">100</text>
<text x="222.0" y="1549.8" font-size="43.5" text-anchor="end" font-family='"Liberation Serif", serif' fill="#000">200</text>
<text x="222.0" y="1413.8" font-size="43.5" text-anchor="end" font-family='"Liberation Serif", serif' fill="#000">300</text>
<text x="222.0" y="1277.8" font-size="43.5" text-anchor="end" font-family='"Liberation Serif", serif' fill="#000">400</text>
<text x="222.0" y="1141.8" font-size="43.5" text-anchor="end" font-family='"Liberation Serif", serif' fill="#000">500</text>
<text x="221.0" y="2882.1" font-size="43.5" text-anchor="end" font-family='"Liberation Serif", serif' fill="#000">-20</text>
<text x="221.0" y="2766.8" font-size="43.5" text-anchor="end" font-family='"Liberation Serif", serif' fill="#000">0</text>
<text x="221.0" y="2651.6" font-size="43.5" text-anchor="end" font-family='"Liberation Serif", serif' fill="#000">20</text>
<text x="221.0" y="2536.3" font-size="43.5" text-anchor="end" font-family='"Liberation Serif", serif' fill="#000">40</text>
<text x="221.0" y="2421.1" font-size="43.5" text-anchor="end" font-family='"Liberation Serif", serif' fill="#000">60</text>
<text x="221.0" y="2305.8" font-size="43.5" text-anchor="end" font-family='"Liberation Serif", serif' fill="#000">80</text>
<text x="221.0" y="2190.6" font-size="43.5" text-anchor="end" font-family='"Liberation Serif", serif' fill="#000">100</text>
<text x="221.0" y="2075.3" font-size="43.5" text-anchor="end" font-family='"Liberation Serif", serif' fill="#000">120</text>
<text x="245.3" y="2953.5" font-size="43.5" text-anchor="middle" font-family='"Liberation Serif", serif' fill="#000">200</text>
<text x="449.2" y="2953.5" font-size="43.5" text-anchor="middle" font-family='"Liberation Serif", serif' fill="#000">400</text>
<text x="653.0" y="2953.5" font-size="43.5" text-anchor="middle" font-family='"Liberation Serif", serif' fill="#000">600</text>
<text x="856.9" y="2953.5" font-size="43.5" text-anchor="middle" font-family='"Liberation Serif", serif' fill="#000">800</text>
<text x="1060.8" y="2953.5" font-size="43.5" text-anchor="middle" font-family='"Liberation Serif", serif' fill="#000">1000</text>
<text x="1264.6" y="2953.5" font-size="43.5" text-anchor="middle" font-family='"Liberation Serif", serif' fill="#000">1200</text>
<text x="1468.5" y="2953.5" font-size="43.5" text-anchor="middle" font-family='"Liberation Serif", serif' fill="#000">1400</text>
<text x="1672.4" y="2953.5" font-size="43.5" text-anchor="middle" font-family='"Liberation Serif", serif' fill="#000">1600</text>
<text x="1876.2" y="2953.5" font-size="43.5" text-anchor="middle" font-family='"Liberation Serif", serif' fill="#000">1800</text>
<text x="85.6" y="620.4" font-size="63" text-anchor="start" font-family='"Liberation Serif", serif' fill="#000" transform="rotate(-90 85.6 620.4)" textLength="212.5" lengthAdjust="spacingAndGlyphs">Intensity</text>
<text x="85.6" y="408.8" font-size="63" text-anchor="start" font-family='"Liberation Serif", serif' fill="#000" transform="rotate(-90 85.6 408.8)"><tspan font-family='"Noto Serif CJK SC", serif' dy="4">（</tspan><tspan dy="-4" font-size="1">&#8203;</tspan>a.u.<tspan font-family='"Noto Serif CJK SC", serif' dy="4">）</tspan><tspan dy="-4" font-size="1">&#8203;</tspan></text>
<text x="98.0" y="1672.2" font-size="63" text-anchor="start" font-family='"Liberation Serif", serif' fill="#000" transform="rotate(-90 98.0 1672.2)" textLength="212.5" lengthAdjust="spacingAndGlyphs">Intensity</text>
<text x="98.0" y="1460.6" font-size="63" text-anchor="start" font-family='"Liberation Serif", serif' fill="#000" transform="rotate(-90 98.0 1460.6)"><tspan font-family='"Noto Serif CJK SC", serif' dy="4">（</tspan><tspan dy="-4" font-size="1">&#8203;</tspan>a.u.<tspan font-family='"Noto Serif CJK SC", serif' dy="4">）</tspan><tspan dy="-4" font-size="1">&#8203;</tspan></text>
<text x="112.6" y="2652.2" font-size="63" text-anchor="start" font-family='"Liberation Serif", serif' fill="#000" transform="rotate(-90 112.6 2652.2)" textLength="212.5" lengthAdjust="spacingAndGlyphs">Intensity</text>
<text x="112.6" y="2440.6" font-size="63" text-anchor="start" font-family='"Liberation Serif", serif' fill="#000" transform="rotate(-90 112.6 2440.6)"><tspan font-family='"Noto Serif CJK SC", serif' dy="4">（</tspan><tspan dy="-4" font-size="1">&#8203;</tspan>a.u.<tspan font-family='"Noto Serif CJK SC", serif' dy="4">）</tspan><tspan dy="-4" font-size="1">&#8203;</tspan></text>
<text x="801.8" y="3068.5" font-size="63" text-anchor="start" font-family='"Liberation Serif", serif' fill="#000" textLength="298.0" lengthAdjust="spacingAndGlyphs">Raman shift</text>
<text x="1099.8" y="3068.5" font-size="63" text-anchor="start" font-family='"Liberation Serif", serif' fill="#000"><tspan font-family='"Noto Serif CJK SC", serif' dy="5">（</tspan><tspan dy="-5" font-size="1">&#8203;</tspan>cm<tspan font-size="37.6" dy="-22.2">-1</tspan><tspan dy="22.2" font-size="1">&#8203;</tspan><tspan font-family='"Noto Serif CJK SC", serif' dy="5">）</tspan><tspan dy="-5" font-size="1">&#8203;</tspan></text>
<text x="241 289.8 316.5" y="107" font-size="46" font-family='"Liberation Sans", "Noto Sans CJK SC", sans-serif' stroke="#000" stroke-width="0.45">（a）</text>
<text x="240.7 289.6 320.1" y="1071.5" font-size="46" font-family='"Liberation Sans", "Noto Sans CJK SC", sans-serif' stroke="#000" stroke-width="0.45">（b）</text>
<text x="241.3 293.2 319" y="2021" font-size="46" font-family='"Liberation Sans", "Noto Sans CJK SC", sans-serif' stroke="#000" stroke-width="0.45">（c）</text>
<text x="307.9" y="411.0" font-size="47" text-anchor="start" font-family='"Liberation Serif", serif' fill="#000" textLength="97.2" lengthAdjust="spacingAndGlyphs">Fe-O</text>
<line x1="245.5" y1="449.0" x2="437.0" y2="449.0" stroke="#000" stroke-width="1.7"/>
<polygon points="437.0,449.0 411.0,455.5 411.0,442.5" fill="#000"/>
<polygon points="245.5,449.0 271.5,442.5 271.5,455.5" fill="#000"/>
<text x="646.0" y="213.3" font-size="47" text-anchor="start" font-family='"Liberation Serif", serif' fill="#000" textLength="97.3" lengthAdjust="spacingAndGlyphs">Fe-O</text>
<line x1="653.3" y1="276.0" x2="765.0" y2="276.0" stroke="#000" stroke-width="1.7"/>
<polygon points="765.0,276.0 739.0,282.5 739.0,269.5" fill="#000"/>
<polygon points="653.3,276.0 679.3,269.5 679.3,282.5" fill="#000"/>
<text x="525.5" y="604.0" font-size="48.5" text-anchor="start" font-family='"Liberation Serif", serif' fill="#000" transform="rotate(-90 525.5 604.0)" textLength="514.0" lengthAdjust="spacingAndGlyphs">CeO γFe<tspan font-size="33.5" dy="13">2</tspan><tspan dy="-13" font-size="1">&#8203;</tspan>O<tspan font-size="33.5" dy="13">3</tspan><tspan dy="-13" font-size="1">&#8203;</tspan>/FePO<tspan font-size="48.5" dy="16.5">4</tspan><tspan dy="-16.5" font-size="1">&#8203;</tspan>.2H<tspan font-size="48.5" dy="16.5">2</tspan><tspan dy="-16.5" font-size="1">&#8203;</tspan>O</text>
<text x="864.0" y="465.0" font-size="48.5" text-anchor="start" font-family='"Liberation Serif", serif' fill="#000" transform="rotate(-90 864.0 465.0)" textLength="97.8" lengthAdjust="spacingAndGlyphs">B<tspan font-size="32.5" dy="13">2</tspan><tspan dy="-13" font-size="1">&#8203;</tspan>O<tspan font-size="32.5" dy="13">3</tspan><tspan dy="-13" font-size="1">&#8203;</tspan></text>
<line x1="510.5" y1="590.0" x2="510.5" y2="690.7" stroke="#ff00ff" stroke-width="1.6"/>
<polygon points="510.5,690.7 504.0,667.7 517.0,667.7" fill="#ff00ff"/>
<line x1="561.7" y1="286.7" x2="561.7" y2="768.0" stroke="#ff00ff" stroke-width="1.6"/>
<polygon points="561.7,768.0 555.2,745.0 568.2,745.0" fill="#ff00ff"/>
<line x1="860.7" y1="471.7" x2="860.7" y2="878.0" stroke="#ff00ff" stroke-width="1.6"/>
<polygon points="860.7,878.0 854.2,853.0 867.2,853.0" fill="#ff00ff"/>
<text x="364.0" y="775.0" font-size="43" text-anchor="start" font-family='"Liberation Serif", serif' fill="#000" textLength="62.0" lengthAdjust="spacingAndGlyphs">368</text>
<text x="475.0" y="655.0" font-size="43" text-anchor="start" font-family='"Liberation Serif", serif' fill="#000" textLength="64.3" lengthAdjust="spacingAndGlyphs">459</text>
<text x="586.7" y="783.0" font-size="43" text-anchor="start" font-family='"Liberation Serif", serif' fill="#000" textLength="61.5" lengthAdjust="spacingAndGlyphs">572</text>
<text x="789.0" y="794.0" font-size="43" text-anchor="start" font-family='"Liberation Serif", serif' fill="#000" textLength="62.0" lengthAdjust="spacingAndGlyphs">794</text>
<text x="564.0" y="711.7" font-size="47" text-anchor="start" font-family='"Liberation Serif", serif' fill="#000" textLength="102.7" lengthAdjust="spacingAndGlyphs">Ce-O</text>
<text x="1557.0" y="686.0" font-size="44" text-anchor="start" font-family='"Liberation Serif", serif' fill="#000" textLength="75.0" lengthAdjust="spacingAndGlyphs">1511</text>
<text x="1640.7" y="636.7" font-size="44" text-anchor="start" font-family='"Liberation Serif", serif' fill="#000" textLength="80.5" lengthAdjust="spacingAndGlyphs">1595</text>
<text x="1724.0" y="717.3" font-size="44" text-anchor="start" font-family='"Liberation Serif", serif' fill="#000" textLength="82.0" lengthAdjust="spacingAndGlyphs">1649</text>
<text x="1113.0" y="111.7" font-size="63" text-anchor="start" font-family='"Liberation Serif", serif' fill="#000" stroke="#000" stroke-width="0.8">ν</text>
<text x="1155.0" y="111.7" font-size="57" text-anchor="start" font-family='"Liberation Serif", "Noto Serif CJK SC", serif' fill="#000" textLength="123.3" lengthAdjust="spacingAndGlyphs" font-weight="300"><tspan dy="-5">(</tspan><tspan dy="5" font-size="1">&#8203;</tspan>C−C<tspan dy="-5">)</tspan><tspan dy="5" font-size="1">&#8203;</tspan></text>
<line x1="906.7" y1="136.3" x2="1555.7" y2="136.3" stroke="#000" stroke-width="1.7"/>
<polygon points="1555.7,136.3 1529.7,142.8 1529.7,129.8" fill="#000"/>
<polygon points="906.7,136.3 932.7,129.8 932.7,142.8" fill="#000"/>
<text x="1618.0" y="110.5" font-size="63" text-anchor="start" font-family='"Liberation Serif", serif' fill="#000" stroke="#000" stroke-width="0.8">ν</text>
<text x="1659.0" y="111.7" font-size="57" text-anchor="start" font-family='"Liberation Serif", "Noto Serif CJK SC", serif' fill="#000" textLength="131.7" lengthAdjust="spacingAndGlyphs" font-weight="300"><tspan dy="-5">(</tspan><tspan dy="5" font-size="1">&#8203;</tspan>C=C<tspan font-size="68" dy="5">/</tspan><tspan dy="-5" font-size="1">&#8203;</tspan></text>
<text x="1618.3" y="181.7" font-size="57" text-anchor="start" font-family='"Liberation Serif", "Noto Serif CJK SC", serif' fill="#000" textLength="112.4" lengthAdjust="spacingAndGlyphs" font-weight="300">C=N<tspan font-size="68" dy="5">/</tspan><tspan dy="-5" font-size="1">&#8203;</tspan></text>
<text x="1618.3" y="253.3" font-size="57" text-anchor="start" font-family='"Liberation Serif", "Noto Serif CJK SC", serif' fill="#000" textLength="104.0" lengthAdjust="spacingAndGlyphs" font-weight="300">C=O<tspan dy="-5">)</tspan><tspan dy="5" font-size="1">&#8203;</tspan></text>
<line x1="1573.0" y1="270.7" x2="1861.7" y2="270.7" stroke="#000" stroke-width="1.7"/>
<polygon points="1861.7,270.7 1835.7,277.2 1835.7,264.2" fill="#000"/>
<polygon points="1573.0,270.7 1599.0,264.2 1599.0,277.2" fill="#000"/>
<text x="302.8" y="1413.2" font-size="43" text-anchor="start" font-family='"Liberation Serif", serif' fill="#000" textLength="88.0" lengthAdjust="spacingAndGlyphs">Fe-O</text>
<line x1="247.5" y1="1452.4" x2="446.0" y2="1452.4" stroke="#000" stroke-width="1.7"/>
<polygon points="446.0,1452.4 420.0,1458.9 420.0,1445.9" fill="#000"/>
<polygon points="247.5,1452.4 273.5,1445.9 273.5,1458.9" fill="#000"/>
<text x="621.8" y="1519.3" font-size="44.5" text-anchor="start" font-family='"Liberation Serif", serif' fill="#000" transform="rotate(-90 621.8 1519.3)" textLength="210.6" lengthAdjust="spacingAndGlyphs">559 γ-Fe<tspan font-size="30.5" dy="12">2</tspan><tspan dy="-12" font-size="1">&#8203;</tspan>O<tspan font-size="30.5" dy="12">3</tspan><tspan dy="-12" font-size="1">&#8203;</tspan></text>
<line x1="606.7" y1="1522.7" x2="609.3" y2="1631.7" stroke="#000" stroke-width="1.7"/>
<polygon points="609.3,1631.7 602.2,1606.9 615.2,1606.6" fill="#000"/>
<text x="851.2" y="1608.6" font-size="44.5" text-anchor="start" font-family='"Liberation Serif", serif' fill="#000" transform="rotate(-90 851.2 1608.6)" textLength="165.4" lengthAdjust="spacingAndGlyphs"><tspan dy="8.6">794</tspan><tspan dy="-8.6"> B</tspan><tspan font-size="30.5" dy="12">2</tspan><tspan dy="-12" font-size="1">&#8203;</tspan>O<tspan font-size="30.5" dy="12">3</tspan><tspan dy="-12" font-size="1">&#8203;</tspan></text>
<line x1="841.7" y1="1616.5" x2="849.3" y2="1700.0" stroke="#000" stroke-width="1.7"/>
<polygon points="849.3,1700.0 840.6,1675.7 853.5,1674.5" fill="#000"/>
<text x="1250.7" y="1108.3" font-size="43.5" text-anchor="start" font-family='"Liberation Serif", serif' fill="#000" textLength="120.0" lengthAdjust="spacingAndGlyphs"><tspan font-style="italic">v</tspan>(C-C)</text>
<line x1="973.3" y1="1140.7" x2="1580.7" y2="1140.7" stroke="#000" stroke-width="1.7"/>
<polygon points="1580.7,1140.7 1554.7,1147.2 1554.7,1134.2" fill="#000"/>
<polygon points="973.3,1140.7 999.3,1134.2 999.3,1147.2" fill="#000"/>
<text x="1654.0" y="1234.3" font-size="43.5" text-anchor="start" font-family='"Liberation Serif", serif' fill="#000" textLength="126.7" lengthAdjust="spacingAndGlyphs"><tspan font-style="italic">v</tspan>(C=N/</text>
<text x="1687.3" y="1289.3" font-size="43.5" text-anchor="start" font-family='"Liberation Serif", serif' fill="#000" textLength="97.7" lengthAdjust="spacingAndGlyphs">C=O)</text>
<line x1="1590.5" y1="1423.3" x2="1866.3" y2="1423.3" stroke="#000" stroke-width="1.7"/>
<polygon points="1866.3,1423.3 1840.3,1429.8 1840.3,1416.8" fill="#000"/>
<polygon points="1590.5,1423.3 1616.5,1416.8 1616.5,1429.8" fill="#000"/>
<text x="285.0" y="2216.0" font-size="43" text-anchor="start" font-family='"Liberation Serif", serif' fill="#000" textLength="86.0" lengthAdjust="spacingAndGlyphs">Fe-O</text>
<line x1="247.5" y1="2247.7" x2="419.0" y2="2247.7" stroke="#000" stroke-width="1.7"/>
<polygon points="419.0,2247.7 393.0,2254.2 393.0,2241.2" fill="#000"/>
<polygon points="247.5,2247.7 273.5,2241.2 273.5,2254.2" fill="#000"/>
<text x="523.9" y="2383.3" font-size="44.5" text-anchor="start" font-family='"Liberation Serif", serif' fill="#000" transform="rotate(-90 523.9 2383.3)" textLength="303.7" lengthAdjust="spacingAndGlyphs">469 CeO/γ-Fe<tspan font-size="30.5" dy="12">2</tspan><tspan dy="-12" font-size="1">&#8203;</tspan>O<tspan font-size="30.5" dy="12">3</tspan><tspan dy="-12" font-size="1">&#8203;</tspan></text>
<line x1="503.2" y1="2391.8" x2="510.6" y2="2483.5" stroke="#000" stroke-width="1.7"/>
<polygon points="510.6,2483.5 502.1,2459.1 515.1,2458.1" fill="#000"/>
<text x="632.0" y="2331.2" font-size="44.5" text-anchor="start" font-family='"Liberation Serif", serif' fill="#000" transform="rotate(-90 632.0 2331.2)" textLength="166.5" lengthAdjust="spacingAndGlyphs">579 Ce-O</text>
<line x1="616.5" y1="2339.7" x2="623.0" y2="2468.5" stroke="#000" stroke-width="1.7"/>
<polygon points="623.0,2468.5 615.2,2443.9 628.2,2443.2" fill="#000"/>
<text x="813.0" y="2128.3" font-size="44.5" text-anchor="start" font-family='"Liberation Serif", serif' fill="#000" transform="rotate(-90 813.0 2128.3)" textLength="163.0" lengthAdjust="spacingAndGlyphs">655 Fe-O</text>
<line x1="809.6" y1="2143.1" x2="711.2" y2="2150.3" stroke="#000" stroke-width="1.7"/>
<polygon points="711.2,2150.3 736.7,2141.9 737.6,2154.9" fill="#000"/>
<text x="1221.0" y="2124.5" font-size="43.5" text-anchor="start" font-family='"Liberation Serif", serif' fill="#000" textLength="121.7" lengthAdjust="spacingAndGlyphs"><tspan font-style="italic">v</tspan>(C-C)</text>
<line x1="953.3" y1="2213.3" x2="1562.7" y2="2213.3" stroke="#000" stroke-width="1.7"/>
<polygon points="1562.7,2213.3 1536.7,2219.8 1536.7,2206.8" fill="#000"/>
<polygon points="953.3,2213.3 979.3,2206.8 979.3,2219.8" fill="#000"/>
<text x="1655.0" y="2172.3" font-size="43.5" text-anchor="start" font-family='"Liberation Serif", serif' fill="#000" textLength="127.7" lengthAdjust="spacingAndGlyphs"><tspan font-style="italic">v</tspan>(C=C/</text>
<text x="1687.7" y="2225.6" font-size="43.5" text-anchor="start" font-family='"Liberation Serif", serif' fill="#000" textLength="99.0" lengthAdjust="spacingAndGlyphs">C=O)</text>
<line x1="1566.0" y1="2296.0" x2="1870.0" y2="2296.0" stroke="#000" stroke-width="1.7"/>
<polygon points="1870.0,2296.0 1844.0,2302.5 1844.0,2289.5" fill="#000"/>
<polygon points="1566.0,2296.0 1592.0,2289.5 1592.0,2302.5" fill="#000"/>
</svg>
</body></html>
